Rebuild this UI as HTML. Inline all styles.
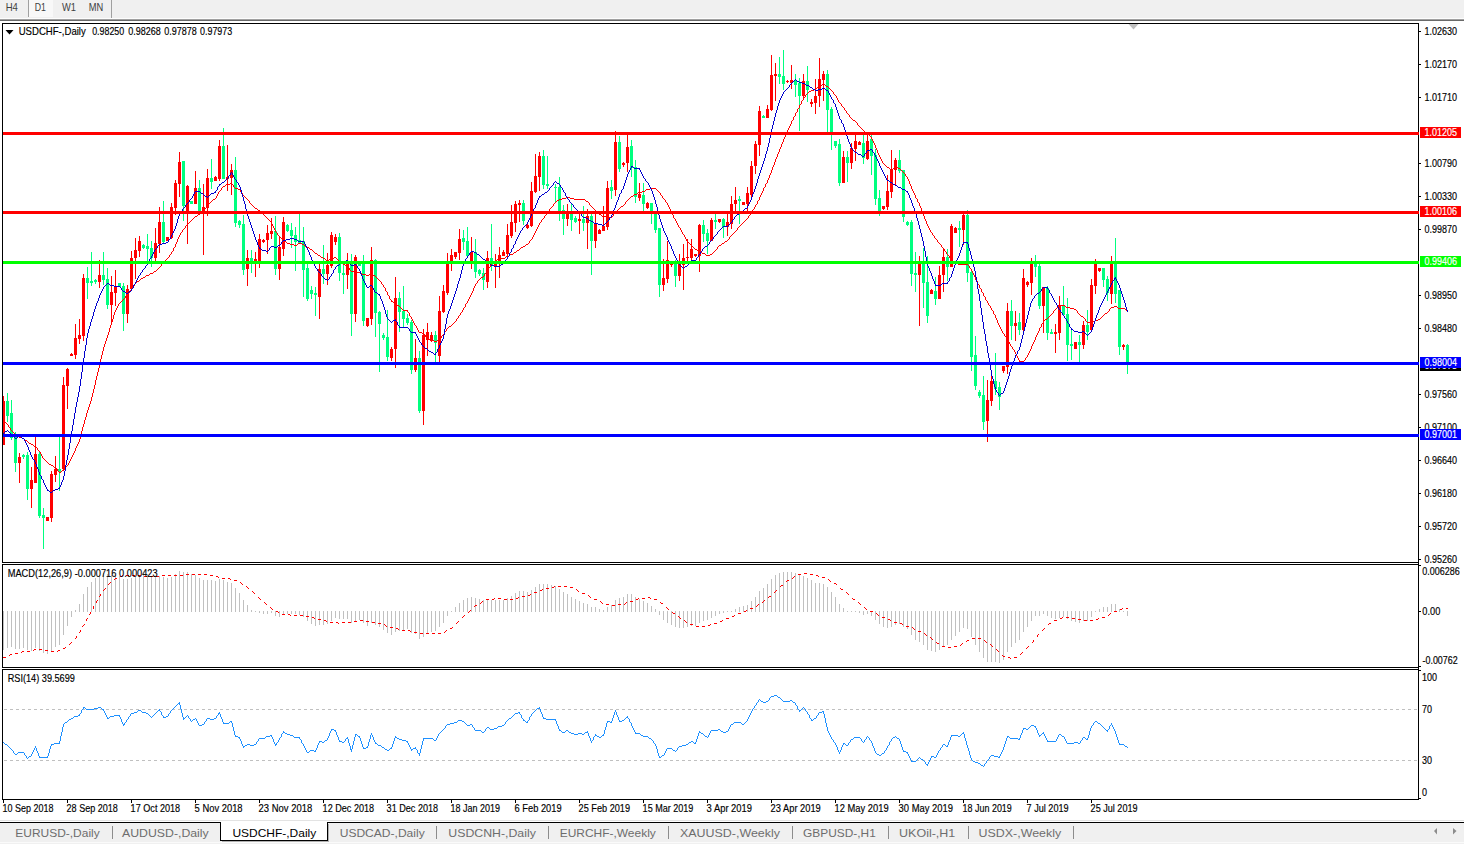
<!DOCTYPE html>
<html><head><meta charset="utf-8"><title>USDCHF-,Daily</title>
<style>
html,body{margin:0;padding:0;background:#fff;}
body{width:1464px;height:844px;overflow:hidden;font-family:"Liberation Sans",sans-serif;}
svg{display:block;font-family:"Liberation Sans",sans-serif;}
svg rect,svg line{shape-rendering:crispEdges;}
</style></head><body>
<svg width="1464" height="844" viewBox="0 0 1464 844">
<rect x="0" y="0" width="1464" height="18" fill="#f0f0f0"/>
<rect x="0" y="18" width="1464" height="1" fill="#fdfdfd"/>
<rect x="0" y="19" width="1464" height="1" fill="#a0a0a0"/>
<rect x="0" y="20" width="1464" height="1" fill="#696969"/>
<rect x="29" y="0" width="24" height="17" fill="#f8f8f8"/>
<rect x="28" y="0" width="1" height="17" fill="#a0a0a0"/>
<rect x="111" y="0" width="1" height="18" fill="#a0a0a0"/>
<text x="5.7" y="10.8" font-size="10.5" fill="#404040" stroke="#404040" stroke-width="0" textLength="12.2" lengthAdjust="spacingAndGlyphs">H4</text>
<text x="34.8" y="10.8" font-size="10.5" fill="#404040" stroke="#404040" stroke-width="0" textLength="11.2" lengthAdjust="spacingAndGlyphs">D1</text>
<text x="62" y="10.8" font-size="10.5" fill="#404040" stroke="#404040" stroke-width="0" textLength="14" lengthAdjust="spacingAndGlyphs">W1</text>
<text x="88.8" y="10.8" font-size="10.5" fill="#404040" stroke="#404040" stroke-width="0" textLength="14.5" lengthAdjust="spacingAndGlyphs">MN</text>
<rect x="2" y="23" width="1417" height="1" fill="#000"/>
<rect x="2" y="23" width="1" height="540" fill="#000"/>
<rect x="2" y="562" width="1417" height="1" fill="#000"/>
<rect x="2" y="564" width="1417" height="1" fill="#000"/>
<rect x="2" y="564" width="1" height="104" fill="#000"/>
<rect x="2" y="667" width="1417" height="1" fill="#000"/>
<rect x="2" y="669" width="1417" height="1" fill="#000"/>
<rect x="2" y="669" width="1" height="131" fill="#000"/>
<rect x="2" y="799" width="1417" height="1" fill="#000"/>
<rect x="1418" y="23" width="1" height="777" fill="#000"/>
<polygon points="1128.5,24 1138.5,24 1133.5,29.5" fill="#c0c0c0"/>
<polygon points="5.5,30 13.5,30 9.5,34.5" fill="#000"/>
<text x="18.7" y="34.7" font-size="10.3" fill="#000" stroke="#000" stroke-width="0.16" textLength="67.1" lengthAdjust="spacingAndGlyphs">USDCHF-,Daily</text>
<text x="92.2" y="34.7" font-size="10.3" fill="#000" stroke="#000" stroke-width="0.16" textLength="32.0" lengthAdjust="spacingAndGlyphs">0.98250</text>
<text x="128.3" y="34.7" font-size="10.3" fill="#000" stroke="#000" stroke-width="0.16" textLength="32.5" lengthAdjust="spacingAndGlyphs">0.98268</text>
<text x="164.2" y="34.7" font-size="10.3" fill="#000" stroke="#000" stroke-width="0.16" textLength="32.5" lengthAdjust="spacingAndGlyphs">0.97878</text>
<text x="200" y="34.7" font-size="10.3" fill="#000" stroke="#000" stroke-width="0.16" textLength="32.2" lengthAdjust="spacingAndGlyphs">0.97973</text>
<rect x="1419" y="31" width="2" height="1" fill="#000"/>
<text x="1424.5" y="35" font-size="10.3" fill="#000" stroke="#000" stroke-width="0.16" textLength="32.5" lengthAdjust="spacingAndGlyphs">1.02630</text>
<rect x="1419" y="64" width="2" height="1" fill="#000"/>
<text x="1424.5" y="68" font-size="10.3" fill="#000" stroke="#000" stroke-width="0.16" textLength="32.5" lengthAdjust="spacingAndGlyphs">1.02170</text>
<rect x="1419" y="97" width="2" height="1" fill="#000"/>
<text x="1424.5" y="101" font-size="10.3" fill="#000" stroke="#000" stroke-width="0.16" textLength="32.5" lengthAdjust="spacingAndGlyphs">1.01710</text>
<rect x="1419" y="163" width="2" height="1" fill="#000"/>
<text x="1424.5" y="167" font-size="10.3" fill="#000" stroke="#000" stroke-width="0.16" textLength="32.5" lengthAdjust="spacingAndGlyphs">1.00790</text>
<rect x="1419" y="196" width="2" height="1" fill="#000"/>
<text x="1424.5" y="200" font-size="10.3" fill="#000" stroke="#000" stroke-width="0.16" textLength="32.5" lengthAdjust="spacingAndGlyphs">1.00330</text>
<rect x="1419" y="229" width="2" height="1" fill="#000"/>
<text x="1424.5" y="233" font-size="10.3" fill="#000" stroke="#000" stroke-width="0.16" textLength="32.5" lengthAdjust="spacingAndGlyphs">0.99870</text>
<rect x="1419" y="295" width="2" height="1" fill="#000"/>
<text x="1424.5" y="299" font-size="10.3" fill="#000" stroke="#000" stroke-width="0.16" textLength="32.5" lengthAdjust="spacingAndGlyphs">0.98950</text>
<rect x="1419" y="328" width="2" height="1" fill="#000"/>
<text x="1424.5" y="332" font-size="10.3" fill="#000" stroke="#000" stroke-width="0.16" textLength="32.5" lengthAdjust="spacingAndGlyphs">0.98480</text>
<rect x="1419" y="394" width="2" height="1" fill="#000"/>
<text x="1424.5" y="398" font-size="10.3" fill="#000" stroke="#000" stroke-width="0.16" textLength="32.5" lengthAdjust="spacingAndGlyphs">0.97560</text>
<rect x="1419" y="427" width="2" height="1" fill="#000"/>
<text x="1424.5" y="431" font-size="10.3" fill="#000" stroke="#000" stroke-width="0.16" textLength="32.5" lengthAdjust="spacingAndGlyphs">0.97100</text>
<rect x="1419" y="460" width="2" height="1" fill="#000"/>
<text x="1424.5" y="464" font-size="10.3" fill="#000" stroke="#000" stroke-width="0.16" textLength="32.5" lengthAdjust="spacingAndGlyphs">0.96640</text>
<rect x="1419" y="493" width="2" height="1" fill="#000"/>
<text x="1424.5" y="497" font-size="10.3" fill="#000" stroke="#000" stroke-width="0.16" textLength="32.5" lengthAdjust="spacingAndGlyphs">0.96180</text>
<rect x="1419" y="526" width="2" height="1" fill="#000"/>
<text x="1424.5" y="530" font-size="10.3" fill="#000" stroke="#000" stroke-width="0.16" textLength="32.5" lengthAdjust="spacingAndGlyphs">0.95720</text>
<rect x="1419" y="559" width="2" height="1" fill="#000"/>
<text x="1424.5" y="563" font-size="10.3" fill="#000" stroke="#000" stroke-width="0.16" textLength="32.5" lengthAdjust="spacingAndGlyphs">0.95260</text>
<rect x="1419" y="565" width="2" height="1" fill="#000"/>
<rect x="1419" y="611" width="2" height="1" fill="#000"/>
<rect x="1419" y="666" width="2" height="1" fill="#000"/>
<text x="1422.3" y="575" font-size="10.3" fill="#000" stroke="#000" stroke-width="0.16" textLength="37.4" lengthAdjust="spacingAndGlyphs">0.006286</text>
<text x="1422.3" y="615" font-size="10.3" fill="#000" stroke="#000" stroke-width="0.16" textLength="18" lengthAdjust="spacingAndGlyphs">0.00</text>
<text x="1422.5" y="664" font-size="10.3" fill="#000" stroke="#000" stroke-width="0.16" textLength="35.2" lengthAdjust="spacingAndGlyphs">-0.00762</text>
<rect x="1419" y="670" width="2" height="1" fill="#000"/>
<rect x="1419" y="798" width="2" height="1" fill="#000"/>
<text x="1422" y="680.5" font-size="10.3" fill="#000" stroke="#000" stroke-width="0.16" textLength="15" lengthAdjust="spacingAndGlyphs">100</text>
<text x="1422" y="713" font-size="10.3" fill="#000" stroke="#000" stroke-width="0.16" textLength="10" lengthAdjust="spacingAndGlyphs">70</text>
<text x="1422" y="764" font-size="10.3" fill="#000" stroke="#000" stroke-width="0.16" textLength="10" lengthAdjust="spacingAndGlyphs">30</text>
<text x="1422" y="796" font-size="10.3" fill="#000" stroke="#000" stroke-width="0.16" textLength="5" lengthAdjust="spacingAndGlyphs">0</text>
<g><rect x="3" y="396" width="1" height="49" fill="#ff0000"/><rect x="3" y="401" width="2" height="44" fill="#ff0000"/><rect x="7" y="393" width="1" height="29" fill="#00ff7f"/><rect x="6" y="401" width="3" height="15" fill="#00ff7f"/><rect x="11" y="400" width="1" height="40" fill="#00ff7f"/><rect x="10" y="413" width="3" height="25" fill="#00ff7f"/><rect x="15" y="432" width="1" height="40" fill="#00ff7f"/><rect x="14" y="436" width="3" height="27" fill="#00ff7f"/><rect x="19" y="453" width="1" height="30" fill="#ff0000"/><rect x="18" y="457" width="3" height="6" fill="#ff0000"/><rect x="23" y="454" width="1" height="5" fill="#00ff7f"/><rect x="22" y="455" width="3" height="2" fill="#00ff7f"/><rect x="27" y="452" width="1" height="48" fill="#00ff7f"/><rect x="26" y="455" width="3" height="34" fill="#00ff7f"/><rect x="31" y="467" width="1" height="41" fill="#ff0000"/><rect x="30" y="480" width="3" height="9" fill="#ff0000"/><rect x="35" y="437" width="1" height="46" fill="#ff0000"/><rect x="34" y="454" width="3" height="29" fill="#ff0000"/><rect x="39" y="452" width="1" height="66" fill="#00ff7f"/><rect x="38" y="454" width="3" height="62" fill="#00ff7f"/><rect x="43" y="508" width="1" height="41" fill="#00ff7f"/><rect x="42" y="515" width="3" height="3" fill="#00ff7f"/><rect x="47" y="517" width="1" height="4" fill="#ff0000"/><rect x="46" y="517" width="3" height="4" fill="#ff0000"/><rect x="51" y="471" width="1" height="51" fill="#ff0000"/><rect x="50" y="474" width="3" height="44" fill="#ff0000"/><rect x="55" y="456" width="1" height="26" fill="#ff0000"/><rect x="54" y="469" width="3" height="6" fill="#ff0000"/><rect x="59" y="434" width="1" height="57" fill="#00ff7f"/><rect x="58" y="469" width="3" height="3" fill="#00ff7f"/><rect x="63" y="377" width="1" height="94" fill="#ff0000"/><rect x="62" y="385" width="3" height="84" fill="#ff0000"/><rect x="67" y="368" width="1" height="41" fill="#ff0000"/><rect x="66" y="369" width="3" height="17" fill="#ff0000"/><rect x="71" y="353" width="1" height="3" fill="#ff0000"/><rect x="70" y="354" width="3" height="2" fill="#ff0000"/><rect x="75" y="324" width="1" height="35" fill="#ff0000"/><rect x="74" y="338" width="3" height="17" fill="#ff0000"/><rect x="79" y="319" width="1" height="25" fill="#ff0000"/><rect x="78" y="335" width="3" height="4" fill="#ff0000"/><rect x="83" y="274" width="1" height="67" fill="#ff0000"/><rect x="82" y="278" width="3" height="58" fill="#ff0000"/><rect x="87" y="267" width="1" height="32" fill="#00ff7f"/><rect x="86" y="278" width="3" height="5" fill="#00ff7f"/><rect x="91" y="252" width="1" height="34" fill="#00ff7f"/><rect x="90" y="281" width="3" height="2" fill="#00ff7f"/><rect x="95" y="279" width="1" height="5" fill="#00ff7f"/><rect x="94" y="280" width="3" height="2" fill="#00ff7f"/><rect x="99" y="260" width="1" height="28" fill="#ff0000"/><rect x="98" y="275" width="3" height="7" fill="#ff0000"/><rect x="103" y="252" width="1" height="33" fill="#00ff7f"/><rect x="102" y="275" width="3" height="5" fill="#00ff7f"/><rect x="107" y="268" width="1" height="41" fill="#00ff7f"/><rect x="106" y="279" width="3" height="26" fill="#00ff7f"/><rect x="111" y="276" width="1" height="47" fill="#ff0000"/><rect x="110" y="292" width="3" height="13" fill="#ff0000"/><rect x="115" y="270" width="1" height="36" fill="#ff0000"/><rect x="114" y="287" width="3" height="6" fill="#ff0000"/><rect x="119" y="283" width="1" height="4" fill="#00ff7f"/><rect x="118" y="283" width="3" height="4" fill="#00ff7f"/><rect x="123" y="283" width="1" height="48" fill="#00ff7f"/><rect x="122" y="286" width="3" height="28" fill="#00ff7f"/><rect x="127" y="285" width="1" height="38" fill="#ff0000"/><rect x="126" y="289" width="3" height="25" fill="#ff0000"/><rect x="131" y="251" width="1" height="38" fill="#ff0000"/><rect x="130" y="258" width="3" height="31" fill="#ff0000"/><rect x="135" y="238" width="1" height="41" fill="#ff0000"/><rect x="134" y="250" width="3" height="8" fill="#ff0000"/><rect x="139" y="236" width="1" height="21" fill="#ff0000"/><rect x="138" y="241" width="3" height="10" fill="#ff0000"/><rect x="143" y="244" width="1" height="5" fill="#00ff7f"/><rect x="142" y="245" width="3" height="3" fill="#00ff7f"/><rect x="147" y="234" width="1" height="27" fill="#00ff7f"/><rect x="146" y="246" width="3" height="3" fill="#00ff7f"/><rect x="151" y="241" width="1" height="26" fill="#00ff7f"/><rect x="150" y="248" width="3" height="10" fill="#00ff7f"/><rect x="155" y="228" width="1" height="34" fill="#ff0000"/><rect x="154" y="243" width="3" height="15" fill="#ff0000"/><rect x="159" y="207" width="1" height="46" fill="#ff0000"/><rect x="158" y="222" width="3" height="22" fill="#ff0000"/><rect x="163" y="201" width="1" height="42" fill="#00ff7f"/><rect x="162" y="222" width="3" height="20" fill="#00ff7f"/><rect x="167" y="237" width="1" height="4" fill="#ff0000"/><rect x="166" y="237" width="3" height="4" fill="#ff0000"/><rect x="171" y="203" width="1" height="36" fill="#ff0000"/><rect x="170" y="207" width="3" height="31" fill="#ff0000"/><rect x="175" y="180" width="1" height="35" fill="#ff0000"/><rect x="174" y="183" width="3" height="25" fill="#ff0000"/><rect x="179" y="152" width="1" height="45" fill="#ff0000"/><rect x="178" y="162" width="3" height="22" fill="#ff0000"/><rect x="183" y="161" width="1" height="60" fill="#00ff7f"/><rect x="182" y="161" width="3" height="45" fill="#00ff7f"/><rect x="187" y="185" width="1" height="59" fill="#ff0000"/><rect x="186" y="186" width="3" height="25" fill="#ff0000"/><rect x="191" y="201" width="1" height="3" fill="#00ff7f"/><rect x="190" y="201" width="3" height="3" fill="#00ff7f"/><rect x="195" y="171" width="1" height="33" fill="#ff0000"/><rect x="194" y="188" width="3" height="16" fill="#ff0000"/><rect x="199" y="180" width="1" height="31" fill="#00ff7f"/><rect x="198" y="188" width="3" height="23" fill="#00ff7f"/><rect x="203" y="184" width="1" height="71" fill="#ff0000"/><rect x="202" y="207" width="3" height="5" fill="#ff0000"/><rect x="207" y="169" width="1" height="47" fill="#ff0000"/><rect x="206" y="178" width="3" height="30" fill="#ff0000"/><rect x="211" y="159" width="1" height="30" fill="#00ff7f"/><rect x="210" y="178" width="3" height="4" fill="#00ff7f"/><rect x="215" y="176" width="1" height="5" fill="#ff0000"/><rect x="214" y="177" width="3" height="4" fill="#ff0000"/><rect x="219" y="140" width="1" height="41" fill="#ff0000"/><rect x="218" y="146" width="3" height="33" fill="#ff0000"/><rect x="223" y="128" width="1" height="51" fill="#00ff7f"/><rect x="222" y="146" width="3" height="33" fill="#00ff7f"/><rect x="227" y="145" width="1" height="46" fill="#ff0000"/><rect x="226" y="177" width="3" height="2" fill="#ff0000"/><rect x="231" y="164" width="1" height="31" fill="#ff0000"/><rect x="230" y="170" width="3" height="8" fill="#ff0000"/><rect x="235" y="157" width="1" height="70" fill="#00ff7f"/><rect x="234" y="170" width="3" height="53" fill="#00ff7f"/><rect x="239" y="220" width="1" height="8" fill="#00ff7f"/><rect x="238" y="221" width="3" height="4" fill="#00ff7f"/><rect x="243" y="215" width="1" height="60" fill="#00ff7f"/><rect x="242" y="224" width="3" height="46" fill="#00ff7f"/><rect x="247" y="250" width="1" height="36" fill="#ff0000"/><rect x="246" y="258" width="3" height="11" fill="#ff0000"/><rect x="251" y="250" width="1" height="23" fill="#00ff7f"/><rect x="250" y="258" width="3" height="5" fill="#00ff7f"/><rect x="255" y="252" width="1" height="25" fill="#ff0000"/><rect x="254" y="259" width="3" height="4" fill="#ff0000"/><rect x="259" y="234" width="1" height="34" fill="#ff0000"/><rect x="258" y="239" width="3" height="22" fill="#ff0000"/><rect x="263" y="239" width="1" height="4" fill="#ff0000"/><rect x="262" y="240" width="3" height="2" fill="#ff0000"/><rect x="267" y="225" width="1" height="29" fill="#ff0000"/><rect x="266" y="233" width="3" height="7" fill="#ff0000"/><rect x="271" y="218" width="1" height="21" fill="#ff0000"/><rect x="270" y="231" width="3" height="3" fill="#ff0000"/><rect x="275" y="216" width="1" height="59" fill="#00ff7f"/><rect x="274" y="231" width="3" height="38" fill="#00ff7f"/><rect x="279" y="237" width="1" height="43" fill="#ff0000"/><rect x="278" y="247" width="3" height="22" fill="#ff0000"/><rect x="283" y="217" width="1" height="39" fill="#ff0000"/><rect x="282" y="222" width="3" height="27" fill="#ff0000"/><rect x="287" y="224" width="1" height="8" fill="#00ff7f"/><rect x="286" y="225" width="3" height="6" fill="#00ff7f"/><rect x="291" y="223" width="1" height="25" fill="#00ff7f"/><rect x="290" y="230" width="3" height="6" fill="#00ff7f"/><rect x="295" y="227" width="1" height="44" fill="#00ff7f"/><rect x="294" y="235" width="3" height="7" fill="#00ff7f"/><rect x="299" y="214" width="1" height="29" fill="#00ff7f"/><rect x="298" y="240" width="3" height="3" fill="#00ff7f"/><rect x="303" y="227" width="1" height="70" fill="#00ff7f"/><rect x="302" y="241" width="3" height="29" fill="#00ff7f"/><rect x="307" y="264" width="1" height="37" fill="#00ff7f"/><rect x="306" y="268" width="3" height="31" fill="#00ff7f"/><rect x="311" y="286" width="1" height="13" fill="#00ff7f"/><rect x="310" y="290" width="3" height="4" fill="#00ff7f"/><rect x="315" y="287" width="1" height="29" fill="#00ff7f"/><rect x="314" y="293" width="3" height="2" fill="#00ff7f"/><rect x="319" y="264" width="1" height="55" fill="#ff0000"/><rect x="318" y="269" width="3" height="28" fill="#ff0000"/><rect x="323" y="245" width="1" height="39" fill="#00ff7f"/><rect x="322" y="269" width="3" height="5" fill="#00ff7f"/><rect x="327" y="253" width="1" height="32" fill="#ff0000"/><rect x="326" y="265" width="3" height="9" fill="#ff0000"/><rect x="331" y="232" width="1" height="36" fill="#ff0000"/><rect x="330" y="235" width="3" height="31" fill="#ff0000"/><rect x="335" y="234" width="1" height="11" fill="#ff0000"/><rect x="334" y="237" width="3" height="5" fill="#ff0000"/><rect x="339" y="233" width="1" height="48" fill="#00ff7f"/><rect x="338" y="237" width="3" height="36" fill="#00ff7f"/><rect x="343" y="264" width="1" height="30" fill="#00ff7f"/><rect x="342" y="273" width="3" height="2" fill="#00ff7f"/><rect x="347" y="253" width="1" height="36" fill="#ff0000"/><rect x="346" y="262" width="3" height="13" fill="#ff0000"/><rect x="351" y="254" width="1" height="82" fill="#00ff7f"/><rect x="350" y="262" width="3" height="52" fill="#00ff7f"/><rect x="355" y="255" width="1" height="67" fill="#ff0000"/><rect x="354" y="257" width="3" height="57" fill="#ff0000"/><rect x="359" y="261" width="1" height="5" fill="#00ff7f"/><rect x="358" y="261" width="3" height="5" fill="#00ff7f"/><rect x="363" y="255" width="1" height="71" fill="#00ff7f"/><rect x="362" y="262" width="3" height="59" fill="#00ff7f"/><rect x="367" y="318" width="1" height="9" fill="#ff0000"/><rect x="366" y="318" width="3" height="8" fill="#ff0000"/><rect x="371" y="247" width="1" height="78" fill="#ff0000"/><rect x="370" y="260" width="3" height="59" fill="#ff0000"/><rect x="375" y="259" width="1" height="78" fill="#00ff7f"/><rect x="374" y="260" width="3" height="53" fill="#00ff7f"/><rect x="379" y="311" width="1" height="61" fill="#00ff7f"/><rect x="378" y="312" width="3" height="12" fill="#00ff7f"/><rect x="383" y="333" width="1" height="7" fill="#00ff7f"/><rect x="382" y="335" width="3" height="3" fill="#00ff7f"/><rect x="387" y="310" width="1" height="51" fill="#00ff7f"/><rect x="386" y="337" width="3" height="20" fill="#00ff7f"/><rect x="391" y="347" width="1" height="14" fill="#ff0000"/><rect x="390" y="349" width="3" height="9" fill="#ff0000"/><rect x="395" y="277" width="1" height="91" fill="#ff0000"/><rect x="394" y="298" width="3" height="51" fill="#ff0000"/><rect x="399" y="292" width="1" height="40" fill="#00ff7f"/><rect x="398" y="298" width="3" height="14" fill="#00ff7f"/><rect x="403" y="286" width="1" height="42" fill="#00ff7f"/><rect x="402" y="311" width="3" height="8" fill="#00ff7f"/><rect x="407" y="314" width="1" height="11" fill="#00ff7f"/><rect x="406" y="318" width="3" height="5" fill="#00ff7f"/><rect x="411" y="320" width="1" height="54" fill="#00ff7f"/><rect x="410" y="322" width="3" height="48" fill="#00ff7f"/><rect x="415" y="339" width="1" height="33" fill="#ff0000"/><rect x="414" y="358" width="3" height="12" fill="#ff0000"/><rect x="419" y="351" width="1" height="62" fill="#00ff7f"/><rect x="418" y="358" width="3" height="53" fill="#00ff7f"/><rect x="423" y="329" width="1" height="96" fill="#ff0000"/><rect x="422" y="335" width="3" height="76" fill="#ff0000"/><rect x="427" y="323" width="1" height="33" fill="#ff0000"/><rect x="426" y="332" width="3" height="8" fill="#ff0000"/><rect x="431" y="332" width="1" height="10" fill="#ff0000"/><rect x="430" y="335" width="3" height="5" fill="#ff0000"/><rect x="435" y="331" width="1" height="32" fill="#00ff7f"/><rect x="434" y="335" width="3" height="8" fill="#00ff7f"/><rect x="439" y="296" width="1" height="67" fill="#ff0000"/><rect x="438" y="311" width="3" height="45" fill="#ff0000"/><rect x="443" y="285" width="1" height="28" fill="#ff0000"/><rect x="442" y="291" width="3" height="21" fill="#ff0000"/><rect x="447" y="253" width="1" height="42" fill="#ff0000"/><rect x="446" y="261" width="3" height="32" fill="#ff0000"/><rect x="451" y="249" width="1" height="22" fill="#ff0000"/><rect x="450" y="255" width="3" height="8" fill="#ff0000"/><rect x="455" y="252" width="1" height="7" fill="#ff0000"/><rect x="454" y="252" width="3" height="5" fill="#ff0000"/><rect x="459" y="229" width="1" height="31" fill="#ff0000"/><rect x="458" y="239" width="3" height="14" fill="#ff0000"/><rect x="463" y="230" width="1" height="20" fill="#00ff7f"/><rect x="462" y="238" width="3" height="4" fill="#00ff7f"/><rect x="467" y="227" width="1" height="29" fill="#00ff7f"/><rect x="466" y="241" width="3" height="15" fill="#00ff7f"/><rect x="471" y="237" width="1" height="32" fill="#ff0000"/><rect x="470" y="252" width="3" height="10" fill="#ff0000"/><rect x="475" y="239" width="1" height="39" fill="#00ff7f"/><rect x="474" y="252" width="3" height="20" fill="#00ff7f"/><rect x="479" y="269" width="1" height="7" fill="#00ff7f"/><rect x="478" y="270" width="3" height="4" fill="#00ff7f"/><rect x="483" y="268" width="1" height="22" fill="#00ff7f"/><rect x="482" y="273" width="3" height="7" fill="#00ff7f"/><rect x="487" y="251" width="1" height="37" fill="#ff0000"/><rect x="486" y="258" width="3" height="24" fill="#ff0000"/><rect x="491" y="224" width="1" height="47" fill="#00ff7f"/><rect x="490" y="258" width="3" height="8" fill="#00ff7f"/><rect x="495" y="254" width="1" height="34" fill="#ff0000"/><rect x="494" y="261" width="3" height="6" fill="#ff0000"/><rect x="499" y="247" width="1" height="31" fill="#ff0000"/><rect x="498" y="255" width="3" height="8" fill="#ff0000"/><rect x="503" y="250" width="1" height="6" fill="#ff0000"/><rect x="502" y="252" width="3" height="4" fill="#ff0000"/><rect x="507" y="224" width="1" height="33" fill="#ff0000"/><rect x="506" y="235" width="3" height="19" fill="#ff0000"/><rect x="511" y="205" width="1" height="33" fill="#ff0000"/><rect x="510" y="222" width="3" height="14" fill="#ff0000"/><rect x="515" y="201" width="1" height="31" fill="#ff0000"/><rect x="514" y="204" width="3" height="19" fill="#ff0000"/><rect x="519" y="200" width="1" height="22" fill="#ff0000"/><rect x="518" y="203" width="3" height="2" fill="#ff0000"/><rect x="523" y="200" width="1" height="25" fill="#00ff7f"/><rect x="522" y="203" width="3" height="18" fill="#00ff7f"/><rect x="527" y="224" width="1" height="5" fill="#ff0000"/><rect x="526" y="225" width="3" height="3" fill="#ff0000"/><rect x="531" y="182" width="1" height="45" fill="#ff0000"/><rect x="530" y="191" width="3" height="35" fill="#ff0000"/><rect x="535" y="154" width="1" height="39" fill="#ff0000"/><rect x="534" y="176" width="3" height="16" fill="#ff0000"/><rect x="539" y="152" width="1" height="39" fill="#ff0000"/><rect x="538" y="156" width="3" height="21" fill="#ff0000"/><rect x="543" y="150" width="1" height="39" fill="#00ff7f"/><rect x="542" y="156" width="3" height="29" fill="#00ff7f"/><rect x="547" y="156" width="1" height="33" fill="#00ff7f"/><rect x="546" y="184" width="3" height="2" fill="#00ff7f"/><rect x="555" y="184" width="1" height="19" fill="#00ff7f"/><rect x="554" y="187" width="3" height="1" fill="#00ff7f"/><rect x="559" y="177" width="1" height="44" fill="#00ff7f"/><rect x="558" y="187" width="3" height="26" fill="#00ff7f"/><rect x="563" y="205" width="1" height="30" fill="#00ff7f"/><rect x="562" y="210" width="3" height="9" fill="#00ff7f"/><rect x="567" y="204" width="1" height="22" fill="#ff0000"/><rect x="566" y="211" width="3" height="8" fill="#ff0000"/><rect x="571" y="204" width="1" height="27" fill="#00ff7f"/><rect x="570" y="212" width="3" height="8" fill="#00ff7f"/><rect x="575" y="216" width="1" height="7" fill="#00ff7f"/><rect x="574" y="218" width="3" height="4" fill="#00ff7f"/><rect x="579" y="213" width="1" height="21" fill="#ff0000"/><rect x="578" y="219" width="3" height="2" fill="#ff0000"/><rect x="583" y="206" width="1" height="25" fill="#00ff7f"/><rect x="582" y="219" width="3" height="4" fill="#00ff7f"/><rect x="587" y="209" width="1" height="40" fill="#ff0000"/><rect x="586" y="216" width="3" height="7" fill="#ff0000"/><rect x="591" y="214" width="1" height="61" fill="#00ff7f"/><rect x="590" y="216" width="3" height="25" fill="#00ff7f"/><rect x="595" y="212" width="1" height="36" fill="#ff0000"/><rect x="594" y="223" width="3" height="18" fill="#ff0000"/><rect x="599" y="229" width="1" height="5" fill="#ff0000"/><rect x="598" y="230" width="3" height="4" fill="#ff0000"/><rect x="603" y="206" width="1" height="25" fill="#ff0000"/><rect x="602" y="226" width="3" height="5" fill="#ff0000"/><rect x="607" y="181" width="1" height="49" fill="#ff0000"/><rect x="606" y="188" width="3" height="39" fill="#ff0000"/><rect x="611" y="180" width="1" height="19" fill="#00ff7f"/><rect x="610" y="187" width="3" height="4" fill="#00ff7f"/><rect x="615" y="131" width="1" height="65" fill="#ff0000"/><rect x="614" y="142" width="3" height="48" fill="#ff0000"/><rect x="619" y="136" width="1" height="36" fill="#00ff7f"/><rect x="618" y="142" width="3" height="27" fill="#00ff7f"/><rect x="623" y="162" width="1" height="5" fill="#ff0000"/><rect x="622" y="163" width="3" height="2" fill="#ff0000"/><rect x="627" y="134" width="1" height="38" fill="#ff0000"/><rect x="626" y="147" width="3" height="16" fill="#ff0000"/><rect x="631" y="140" width="1" height="37" fill="#00ff7f"/><rect x="630" y="146" width="3" height="22" fill="#00ff7f"/><rect x="635" y="160" width="1" height="43" fill="#00ff7f"/><rect x="634" y="167" width="3" height="30" fill="#00ff7f"/><rect x="639" y="183" width="1" height="18" fill="#ff0000"/><rect x="638" y="194" width="3" height="4" fill="#ff0000"/><rect x="643" y="183" width="1" height="29" fill="#00ff7f"/><rect x="642" y="195" width="3" height="9" fill="#00ff7f"/><rect x="647" y="202" width="1" height="7" fill="#ff0000"/><rect x="646" y="203" width="3" height="5" fill="#ff0000"/><rect x="651" y="203" width="1" height="21" fill="#00ff7f"/><rect x="650" y="203" width="3" height="10" fill="#00ff7f"/><rect x="655" y="212" width="1" height="21" fill="#00ff7f"/><rect x="654" y="212" width="3" height="18" fill="#00ff7f"/><rect x="659" y="228" width="1" height="69" fill="#00ff7f"/><rect x="658" y="228" width="3" height="57" fill="#00ff7f"/><rect x="663" y="259" width="1" height="32" fill="#ff0000"/><rect x="662" y="278" width="3" height="7" fill="#ff0000"/><rect x="667" y="241" width="1" height="42" fill="#ff0000"/><rect x="666" y="260" width="3" height="19" fill="#ff0000"/><rect x="671" y="261" width="1" height="6" fill="#ff0000"/><rect x="670" y="262" width="3" height="3" fill="#ff0000"/><rect x="675" y="260" width="1" height="27" fill="#00ff7f"/><rect x="674" y="262" width="3" height="14" fill="#00ff7f"/><rect x="679" y="254" width="1" height="27" fill="#ff0000"/><rect x="678" y="262" width="3" height="14" fill="#ff0000"/><rect x="683" y="244" width="1" height="46" fill="#ff0000"/><rect x="682" y="258" width="3" height="7" fill="#ff0000"/><rect x="687" y="239" width="1" height="24" fill="#ff0000"/><rect x="686" y="257" width="3" height="1" fill="#ff0000"/><rect x="691" y="239" width="1" height="23" fill="#ff0000"/><rect x="690" y="249" width="3" height="9" fill="#ff0000"/><rect x="695" y="254" width="1" height="3" fill="#ff0000"/><rect x="694" y="254" width="3" height="2" fill="#ff0000"/><rect x="699" y="224" width="1" height="48" fill="#ff0000"/><rect x="698" y="225" width="3" height="31" fill="#ff0000"/><rect x="703" y="220" width="1" height="22" fill="#00ff7f"/><rect x="702" y="225" width="3" height="9" fill="#00ff7f"/><rect x="707" y="229" width="1" height="25" fill="#00ff7f"/><rect x="706" y="233" width="3" height="8" fill="#00ff7f"/><rect x="711" y="218" width="1" height="23" fill="#ff0000"/><rect x="710" y="220" width="3" height="21" fill="#ff0000"/><rect x="715" y="214" width="1" height="15" fill="#00ff7f"/><rect x="714" y="220" width="3" height="2" fill="#00ff7f"/><rect x="719" y="219" width="1" height="4" fill="#ff0000"/><rect x="718" y="219" width="3" height="3" fill="#ff0000"/><rect x="723" y="218" width="1" height="20" fill="#00ff7f"/><rect x="722" y="219" width="3" height="8" fill="#00ff7f"/><rect x="727" y="213" width="1" height="23" fill="#ff0000"/><rect x="726" y="222" width="3" height="5" fill="#ff0000"/><rect x="731" y="196" width="1" height="33" fill="#ff0000"/><rect x="730" y="204" width="3" height="20" fill="#ff0000"/><rect x="735" y="187" width="1" height="26" fill="#ff0000"/><rect x="734" y="200" width="3" height="4" fill="#ff0000"/><rect x="739" y="196" width="1" height="28" fill="#00ff7f"/><rect x="738" y="199" width="3" height="2" fill="#00ff7f"/><rect x="743" y="202" width="1" height="3" fill="#ff0000"/><rect x="742" y="202" width="3" height="3" fill="#ff0000"/><rect x="747" y="187" width="1" height="26" fill="#ff0000"/><rect x="746" y="193" width="3" height="11" fill="#ff0000"/><rect x="751" y="161" width="1" height="36" fill="#ff0000"/><rect x="750" y="166" width="3" height="29" fill="#ff0000"/><rect x="755" y="141" width="1" height="33" fill="#ff0000"/><rect x="754" y="144" width="3" height="22" fill="#ff0000"/><rect x="759" y="106" width="1" height="50" fill="#ff0000"/><rect x="758" y="111" width="3" height="34" fill="#ff0000"/><rect x="763" y="115" width="1" height="3" fill="#00ff7f"/><rect x="762" y="116" width="3" height="2" fill="#00ff7f"/><rect x="767" y="105" width="1" height="13" fill="#ff0000"/><rect x="766" y="109" width="3" height="9" fill="#ff0000"/><rect x="771" y="55" width="1" height="56" fill="#ff0000"/><rect x="770" y="75" width="3" height="35" fill="#ff0000"/><rect x="775" y="63" width="1" height="38" fill="#ff0000"/><rect x="774" y="74" width="3" height="2" fill="#ff0000"/><rect x="779" y="57" width="1" height="27" fill="#00ff7f"/><rect x="778" y="74" width="3" height="3" fill="#00ff7f"/><rect x="783" y="50" width="1" height="40" fill="#00ff7f"/><rect x="782" y="76" width="3" height="8" fill="#00ff7f"/><rect x="787" y="80" width="1" height="3" fill="#ff0000"/><rect x="786" y="81" width="3" height="1" fill="#ff0000"/><rect x="791" y="65" width="1" height="24" fill="#ff0000"/><rect x="790" y="80" width="3" height="3" fill="#ff0000"/><rect x="795" y="74" width="1" height="23" fill="#00ff7f"/><rect x="794" y="80" width="3" height="5" fill="#00ff7f"/><rect x="799" y="78" width="1" height="53" fill="#00ff7f"/><rect x="798" y="83" width="3" height="13" fill="#00ff7f"/><rect x="803" y="74" width="1" height="24" fill="#ff0000"/><rect x="802" y="81" width="3" height="15" fill="#ff0000"/><rect x="807" y="66" width="1" height="36" fill="#00ff7f"/><rect x="806" y="81" width="3" height="9" fill="#00ff7f"/><rect x="811" y="99" width="1" height="8" fill="#ff0000"/><rect x="810" y="102" width="3" height="2" fill="#ff0000"/><rect x="815" y="79" width="1" height="35" fill="#ff0000"/><rect x="814" y="96" width="3" height="7" fill="#ff0000"/><rect x="819" y="58" width="1" height="49" fill="#ff0000"/><rect x="818" y="79" width="3" height="17" fill="#ff0000"/><rect x="823" y="71" width="1" height="30" fill="#ff0000"/><rect x="822" y="74" width="3" height="6" fill="#ff0000"/><rect x="827" y="70" width="1" height="63" fill="#00ff7f"/><rect x="826" y="74" width="3" height="36" fill="#00ff7f"/><rect x="831" y="107" width="1" height="43" fill="#00ff7f"/><rect x="830" y="109" width="3" height="23" fill="#00ff7f"/><rect x="835" y="141" width="1" height="7" fill="#00ff7f"/><rect x="834" y="141" width="3" height="5" fill="#00ff7f"/><rect x="839" y="139" width="1" height="47" fill="#00ff7f"/><rect x="838" y="144" width="3" height="39" fill="#00ff7f"/><rect x="843" y="151" width="1" height="32" fill="#ff0000"/><rect x="842" y="157" width="3" height="26" fill="#ff0000"/><rect x="847" y="151" width="1" height="31" fill="#00ff7f"/><rect x="846" y="157" width="3" height="6" fill="#00ff7f"/><rect x="851" y="143" width="1" height="26" fill="#ff0000"/><rect x="850" y="148" width="3" height="15" fill="#ff0000"/><rect x="855" y="135" width="1" height="26" fill="#ff0000"/><rect x="854" y="141" width="3" height="8" fill="#ff0000"/><rect x="859" y="141" width="1" height="4" fill="#ff0000"/><rect x="858" y="142" width="3" height="3" fill="#ff0000"/><rect x="863" y="135" width="1" height="29" fill="#00ff7f"/><rect x="862" y="143" width="3" height="15" fill="#00ff7f"/><rect x="867" y="135" width="1" height="25" fill="#ff0000"/><rect x="866" y="141" width="3" height="18" fill="#ff0000"/><rect x="871" y="135" width="1" height="40" fill="#00ff7f"/><rect x="870" y="139" width="3" height="17" fill="#00ff7f"/><rect x="875" y="149" width="1" height="56" fill="#00ff7f"/><rect x="874" y="155" width="3" height="44" fill="#00ff7f"/><rect x="879" y="190" width="1" height="26" fill="#00ff7f"/><rect x="878" y="198" width="3" height="15" fill="#00ff7f"/><rect x="883" y="206" width="1" height="4" fill="#ff0000"/><rect x="882" y="206" width="3" height="3" fill="#ff0000"/><rect x="887" y="175" width="1" height="35" fill="#ff0000"/><rect x="886" y="191" width="3" height="16" fill="#ff0000"/><rect x="891" y="150" width="1" height="48" fill="#ff0000"/><rect x="890" y="170" width="3" height="22" fill="#ff0000"/><rect x="895" y="158" width="1" height="27" fill="#ff0000"/><rect x="894" y="160" width="3" height="10" fill="#ff0000"/><rect x="899" y="150" width="1" height="23" fill="#00ff7f"/><rect x="898" y="160" width="3" height="11" fill="#00ff7f"/><rect x="903" y="170" width="1" height="52" fill="#00ff7f"/><rect x="902" y="170" width="3" height="47" fill="#00ff7f"/><rect x="907" y="221" width="1" height="5" fill="#00ff7f"/><rect x="906" y="222" width="3" height="3" fill="#00ff7f"/><rect x="911" y="220" width="1" height="66" fill="#00ff7f"/><rect x="910" y="222" width="3" height="52" fill="#00ff7f"/><rect x="915" y="252" width="1" height="40" fill="#00ff7f"/><rect x="914" y="273" width="3" height="2" fill="#00ff7f"/><rect x="919" y="256" width="1" height="70" fill="#ff0000"/><rect x="918" y="262" width="3" height="13" fill="#ff0000"/><rect x="923" y="248" width="1" height="60" fill="#00ff7f"/><rect x="922" y="262" width="3" height="21" fill="#00ff7f"/><rect x="927" y="256" width="1" height="67" fill="#00ff7f"/><rect x="926" y="282" width="3" height="34" fill="#00ff7f"/><rect x="931" y="289" width="1" height="5" fill="#ff0000"/><rect x="930" y="290" width="3" height="4" fill="#ff0000"/><rect x="935" y="277" width="1" height="28" fill="#00ff7f"/><rect x="934" y="291" width="3" height="8" fill="#00ff7f"/><rect x="939" y="266" width="1" height="33" fill="#ff0000"/><rect x="938" y="275" width="3" height="24" fill="#ff0000"/><rect x="943" y="249" width="1" height="43" fill="#ff0000"/><rect x="942" y="257" width="3" height="18" fill="#ff0000"/><rect x="947" y="249" width="1" height="32" fill="#00ff7f"/><rect x="946" y="257" width="3" height="10" fill="#00ff7f"/><rect x="951" y="224" width="1" height="43" fill="#ff0000"/><rect x="950" y="226" width="3" height="41" fill="#ff0000"/><rect x="955" y="227" width="1" height="6" fill="#ff0000"/><rect x="954" y="228" width="3" height="5" fill="#ff0000"/><rect x="959" y="221" width="1" height="26" fill="#00ff7f"/><rect x="958" y="228" width="3" height="2" fill="#00ff7f"/><rect x="963" y="212" width="1" height="33" fill="#ff0000"/><rect x="962" y="215" width="3" height="15" fill="#ff0000"/><rect x="967" y="210" width="1" height="72" fill="#00ff7f"/><rect x="966" y="215" width="3" height="58" fill="#00ff7f"/><rect x="971" y="271" width="1" height="100" fill="#00ff7f"/><rect x="970" y="272" width="3" height="85" fill="#00ff7f"/><rect x="975" y="336" width="1" height="54" fill="#00ff7f"/><rect x="974" y="355" width="3" height="31" fill="#00ff7f"/><rect x="979" y="390" width="1" height="8" fill="#00ff7f"/><rect x="978" y="392" width="3" height="4" fill="#00ff7f"/><rect x="983" y="376" width="1" height="54" fill="#00ff7f"/><rect x="982" y="395" width="3" height="27" fill="#00ff7f"/><rect x="987" y="380" width="1" height="62" fill="#ff0000"/><rect x="986" y="400" width="3" height="21" fill="#ff0000"/><rect x="991" y="376" width="1" height="30" fill="#ff0000"/><rect x="990" y="381" width="3" height="20" fill="#ff0000"/><rect x="995" y="353" width="1" height="42" fill="#00ff7f"/><rect x="994" y="381" width="3" height="8" fill="#00ff7f"/><rect x="999" y="382" width="1" height="28" fill="#00ff7f"/><rect x="998" y="387" width="3" height="10" fill="#00ff7f"/><rect x="1003" y="366" width="1" height="7" fill="#ff0000"/><rect x="1002" y="366" width="3" height="5" fill="#ff0000"/><rect x="1007" y="303" width="1" height="71" fill="#ff0000"/><rect x="1006" y="311" width="3" height="56" fill="#ff0000"/><rect x="1011" y="300" width="1" height="40" fill="#00ff7f"/><rect x="1010" y="311" width="3" height="15" fill="#00ff7f"/><rect x="1015" y="311" width="1" height="30" fill="#ff0000"/><rect x="1014" y="323" width="3" height="3" fill="#ff0000"/><rect x="1019" y="313" width="1" height="22" fill="#00ff7f"/><rect x="1018" y="322" width="3" height="8" fill="#00ff7f"/><rect x="1023" y="269" width="1" height="62" fill="#ff0000"/><rect x="1022" y="278" width="3" height="52" fill="#ff0000"/><rect x="1027" y="281" width="1" height="6" fill="#ff0000"/><rect x="1026" y="282" width="3" height="3" fill="#ff0000"/><rect x="1031" y="258" width="1" height="37" fill="#ff0000"/><rect x="1030" y="262" width="3" height="21" fill="#ff0000"/><rect x="1035" y="255" width="1" height="22" fill="#00ff7f"/><rect x="1034" y="262" width="3" height="5" fill="#00ff7f"/><rect x="1039" y="264" width="1" height="45" fill="#00ff7f"/><rect x="1038" y="266" width="3" height="40" fill="#00ff7f"/><rect x="1043" y="287" width="1" height="46" fill="#ff0000"/><rect x="1042" y="287" width="3" height="19" fill="#ff0000"/><rect x="1047" y="286" width="1" height="54" fill="#00ff7f"/><rect x="1046" y="288" width="3" height="45" fill="#00ff7f"/><rect x="1051" y="329" width="1" height="5" fill="#00ff7f"/><rect x="1050" y="332" width="3" height="2" fill="#00ff7f"/><rect x="1055" y="324" width="1" height="29" fill="#ff0000"/><rect x="1054" y="332" width="3" height="2" fill="#ff0000"/><rect x="1059" y="296" width="1" height="44" fill="#ff0000"/><rect x="1058" y="305" width="3" height="28" fill="#ff0000"/><rect x="1063" y="286" width="1" height="29" fill="#00ff7f"/><rect x="1062" y="305" width="3" height="10" fill="#00ff7f"/><rect x="1067" y="298" width="1" height="63" fill="#00ff7f"/><rect x="1066" y="314" width="3" height="31" fill="#00ff7f"/><rect x="1071" y="328" width="1" height="32" fill="#00ff7f"/><rect x="1070" y="344" width="3" height="2" fill="#00ff7f"/><rect x="1075" y="342" width="1" height="7" fill="#ff0000"/><rect x="1074" y="342" width="3" height="7" fill="#ff0000"/><rect x="1079" y="335" width="1" height="27" fill="#00ff7f"/><rect x="1078" y="342" width="3" height="3" fill="#00ff7f"/><rect x="1083" y="321" width="1" height="28" fill="#ff0000"/><rect x="1082" y="325" width="3" height="20" fill="#ff0000"/><rect x="1087" y="310" width="1" height="30" fill="#00ff7f"/><rect x="1086" y="325" width="3" height="7" fill="#00ff7f"/><rect x="1091" y="279" width="1" height="52" fill="#ff0000"/><rect x="1090" y="285" width="3" height="45" fill="#ff0000"/><rect x="1095" y="259" width="1" height="35" fill="#ff0000"/><rect x="1094" y="262" width="3" height="24" fill="#ff0000"/><rect x="1099" y="268" width="1" height="4" fill="#ff0000"/><rect x="1098" y="268" width="3" height="3" fill="#ff0000"/><rect x="1103" y="268" width="1" height="19" fill="#00ff7f"/><rect x="1102" y="268" width="3" height="12" fill="#00ff7f"/><rect x="1107" y="276" width="1" height="25" fill="#00ff7f"/><rect x="1106" y="279" width="3" height="14" fill="#00ff7f"/><rect x="1111" y="256" width="1" height="48" fill="#ff0000"/><rect x="1110" y="262" width="3" height="32" fill="#ff0000"/><rect x="1115" y="238" width="1" height="65" fill="#00ff7f"/><rect x="1114" y="262" width="3" height="32" fill="#00ff7f"/><rect x="1119" y="290" width="1" height="65" fill="#00ff7f"/><rect x="1118" y="290" width="3" height="57" fill="#00ff7f"/><rect x="1123" y="344" width="1" height="6" fill="#ff0000"/><rect x="1122" y="345" width="3" height="2" fill="#ff0000"/><rect x="1127" y="344" width="1" height="30" fill="#00ff7f"/><rect x="1126" y="345" width="3" height="19" fill="#00ff7f"/></g>
<path d="M822 84.5h3M819 86.5h2M826 86.5h2M817 87.5h2M814 89.5h2M811 90.5h3M809 91.5h2M853 120.5h2M865 132.5h2M887 167.5h2M894 167.5h4M898 168.5h2M890 169.5h3M230 183.5h2M226 184.5h4M223 186.5h2M235 188.5h3M650 188.5h6M238 189.5h2M646 189.5h4M642 191.5h3M638 192.5h4M634 194.5h3M631 196.5h2M566 197.5h4M562 198.5h4M570 198.5h4M213 199.5h2M559 199.5h3M574 199.5h11M557 200.5h2M586 201.5h2M621 206.5h2M255 208.5h2M258 210.5h2M201 212.5h2M198 214.5h2M599 214.5h2M195 216.5h2M602 216.5h4M606 217.5h6M281 238.5h2M725 241.5h2M287 243.5h3M298 243.5h4M722 243.5h2M290 244.5h4M302 244.5h2M526 244.5h2M294 245.5h3M719 245.5h2M305 246.5h2M523 246.5h2M307 247.5h2M521 247.5h2M310 249.5h2M695 249.5h2M517 250.5h2M698 251.5h3M514 252.5h2M315 253.5h2M702 253.5h3M510 254.5h3M710 254.5h2M318 255.5h2M706 255.5h4M506 256.5h3M321 257.5h2M334 257.5h2M323 258.5h2M330 258.5h4M499 258.5h6M497 259.5h2M326 260.5h3M493 262.5h2M341 263.5h2M955 263.5h3M343 264.5h2M958 264.5h10M346 266.5h2M154 271.5h2M351 271.5h3M354 272.5h7M150 273.5h3M370 273.5h2M362 274.5h4M146 275.5h3M366 275.5h3M373 275.5h2M143 277.5h2M481 277.5h2M141 278.5h2M137 281.5h2M391 301.5h2M394 303.5h2M397 305.5h2M1059 305.5h6M1114 306.5h3M1066 307.5h4M1111 307.5h3M1070 308.5h4M1118 308.5h7M1074 309.5h2M403 310.5h5M1126 310.5h2M1105 313.5h2M1081 316.5h2M1045 319.5h2M1098 319.5h2M1095 320.5h3M1093 321.5h2M1087 322.5h3M1090 323.5h2M449 326.5h2M419 332.5h3M422 333.5h2M427 338.5h2M438 339.5h2M430 340.5h4M434 341.5h3M1019 361.5h5M17 436.5h2M19 437.5h3M22 438.5h2M25 440.5h2M29 443.5h2M31 444.5h2M34 446.5h2M49 464.5h2M51 465.5h2M54 467.5h2M62 470.5h2M59 472.5h2M3.5 420v1M4.5 421v1M5.5 422v1M6.5 423v1M7.5 424v1M8.5 425v2M9.5 427v1M10.5 428v2M11.5 430v1M12.5 431v1M13.5 432v1M14.5 433v1M15.5 434v1M16.5 435v1M24.5 439v1M27.5 441v1M28.5 442v1M33.5 445v1M36.5 447v1M37.5 448v2M38.5 450v1M39.5 451v1M40.5 452v2M41.5 454v2M42.5 456v2M43.5 458v1M44.5 459v1M45.5 460v1M46.5 461v1M47.5 462v1M48.5 463v1M53.5 466v1M56.5 468v1M57.5 469v2M58.5 471v1M61.5 471v1M64.5 469v1M65.5 467v2M66.5 466v1M67.5 465v1M68.5 463v2M69.5 461v2M70.5 459v2M71.5 457v2M72.5 455v2M73.5 453v2M74.5 451v2M75.5 448v3M76.5 446v2M77.5 444v2M78.5 442v2M79.5 439v3M80.5 435v4M81.5 431v4M82.5 427v4M83.5 424v3M84.5 420v4M85.5 417v3M86.5 413v4M87.5 410v3M88.5 407v3M89.5 404v3M90.5 401v3M91.5 397v4M92.5 393v4M93.5 389v4M94.5 385v4M95.5 380v5M96.5 376v4M97.5 372v4M98.5 368v4M99.5 363v5M100.5 359v4M101.5 355v4M102.5 351v4M103.5 347v4M104.5 344v3M105.5 341v3M106.5 338v3M107.5 335v3M108.5 332v3M109.5 328v4M110.5 325v3M111.5 322v3M112.5 319v3M113.5 315v4M114.5 312v3M115.5 310v2M116.5 308v2M117.5 306v2M118.5 304v2M119.5 303v1M120.5 302v1M121.5 301v1M122.5 300v1M123.5 299v1M124.5 298v1M125.5 296v2M126.5 295v1M127.5 294v1M128.5 293v1M129.5 291v2M130.5 290v1M131.5 289v1M132.5 287v2M133.5 286v1M134.5 284v2M135.5 283v1M136.5 282v1M139.5 280v1M140.5 279v1M145.5 276v1M149.5 274v1M153.5 272v1M156.5 270v1M157.5 269v1M158.5 268v1M159.5 267v1M160.5 266v1M161.5 264v2M162.5 263v1M163.5 262v1M164.5 261v1M165.5 260v1M166.5 259v1M167.5 258v1M168.5 257v1M169.5 255v2M170.5 254v1M171.5 252v2M172.5 251v1M173.5 248v3M174.5 247v1M175.5 244v3M176.5 242v2M177.5 239v3M178.5 237v2M179.5 235v2M180.5 233v2M181.5 232v1M182.5 230v2M183.5 229v1M184.5 228v1M185.5 226v2M186.5 225v1M187.5 224v1M188.5 223v1M189.5 222v1M190.5 221v1M191.5 220v1M192.5 219v1M193.5 218v1M194.5 217v1M197.5 215v1M200.5 213v1M203.5 211v1M204.5 209v2M205.5 208v1M206.5 206v2M207.5 205v1M208.5 204v1M209.5 203v1M210.5 202v1M211.5 201v1M212.5 200v1M215.5 198v1M216.5 196v2M217.5 194v2M218.5 192v2M219.5 191v1M220.5 190v1M221.5 188v2M222.5 187v1M225.5 185v1M232.5 184v1M233.5 185v2M234.5 187v1M240.5 190v2M241.5 192v1M242.5 193v2M243.5 195v1M244.5 196v1M245.5 197v1M246.5 198v1M247.5 199v1M248.5 200v1M249.5 201v2M250.5 203v1M251.5 204v1M252.5 205v1M253.5 206v1M254.5 207v1M257.5 209v1M260.5 211v1M261.5 212v1M262.5 213v1M263.5 214v1M264.5 215v1M265.5 216v1M266.5 217v1M267.5 218v1M268.5 219v1M269.5 220v1M270.5 221v1M271.5 222v2M272.5 224v2M273.5 226v2M274.5 228v2M275.5 230v2M276.5 232v1M277.5 233v2M278.5 235v1M279.5 236v1M280.5 237v1M283.5 239v1M284.5 240v1M285.5 241v1M286.5 242v1M297.5 244v1M304.5 245v1M309.5 248v1M312.5 250v1M313.5 251v1M314.5 252v1M317.5 254v1M320.5 256v1M325.5 259v1M329.5 259v1M336.5 258v1M337.5 259v1M338.5 260v1M339.5 261v1M340.5 262v1M345.5 265v1M348.5 267v1M349.5 268v2M350.5 270v1M361.5 273v1M369.5 274v1M372.5 274v1M375.5 276v1M376.5 277v1M377.5 278v1M378.5 279v1M379.5 280v1M380.5 281v1M381.5 282v2M382.5 284v1M383.5 285v2M384.5 287v1M385.5 288v3M386.5 291v1M387.5 292v3M388.5 295v1M389.5 296v3M390.5 299v1M391.5 300v1M393.5 302v1M396.5 304v1M399.5 306v1M400.5 307v1M401.5 308v1M402.5 309v1M407.5 311v1M408.5 312v1M409.5 313v3M410.5 316v1M411.5 317v2M412.5 319v2M413.5 321v2M414.5 323v2M415.5 325v1M416.5 326v2M417.5 328v2M418.5 330v2M424.5 334v1M425.5 335v2M426.5 337v1M429.5 339v1M437.5 340v1M440.5 338v1M441.5 336v2M442.5 335v1M443.5 334v1M444.5 332v2M445.5 331v1M446.5 329v2M447.5 328v1M448.5 327v1M451.5 325v1M452.5 324v1M453.5 323v1M454.5 322v1M455.5 321v1M456.5 319v2M457.5 318v1M458.5 316v2M459.5 315v1M460.5 313v2M461.5 312v1M462.5 310v2M463.5 308v2M464.5 307v1M465.5 304v3M466.5 303v1M467.5 301v2M468.5 299v2M469.5 297v2M470.5 295v2M471.5 293v2M472.5 291v2M473.5 288v3M474.5 286v2M475.5 284v2M476.5 283v1M477.5 281v2M478.5 280v1M479.5 279v1M480.5 278v1M483.5 276v1M484.5 274v2M485.5 273v1M486.5 271v2M487.5 270v1M488.5 268v2M489.5 267v1M490.5 265v2M491.5 264v1M492.5 263v1M495.5 261v1M496.5 260v1M505.5 257v1M509.5 255v1M513.5 253v1M516.5 251v1M519.5 249v1M520.5 248v1M525.5 245v1M528.5 243v1M529.5 241v2M530.5 240v1M531.5 239v1M532.5 237v2M533.5 235v2M534.5 233v2M535.5 231v2M536.5 229v2M537.5 227v2M538.5 225v2M539.5 223v2M540.5 222v1M541.5 220v2M542.5 219v1M543.5 218v1M544.5 216v2M545.5 215v1M546.5 213v2M547.5 212v1M548.5 211v1M549.5 209v2M550.5 208v1M551.5 207v1M552.5 206v1M553.5 204v2M554.5 203v1M555.5 202v1M556.5 201v1M585.5 200v1M588.5 202v1M589.5 203v2M590.5 205v1M591.5 206v1M592.5 207v1M593.5 208v1M594.5 209v1M595.5 210v1M596.5 211v1M597.5 212v1M598.5 213v1M601.5 215v1M612.5 216v1M613.5 214v2M614.5 213v1M615.5 212v1M616.5 211v1M617.5 210v1M618.5 209v1M619.5 208v1M620.5 207v1M623.5 205v1M624.5 204v1M625.5 202v2M626.5 201v1M627.5 200v1M628.5 199v1M629.5 198v1M630.5 197v1M633.5 195v1M637.5 193v1M645.5 190v1M656.5 189v1M657.5 190v1M658.5 191v1M659.5 192v1M660.5 193v2M661.5 195v1M662.5 196v2M663.5 198v1M664.5 199v1M665.5 200v2M666.5 202v1M667.5 203v2M668.5 205v2M669.5 207v2M670.5 209v2M671.5 211v3M672.5 214v1M673.5 215v3M674.5 218v1M675.5 219v2M676.5 221v2M677.5 223v2M678.5 225v2M679.5 227v1M680.5 228v2M681.5 230v2M682.5 232v2M683.5 234v1M684.5 235v2M685.5 237v2M686.5 239v2M687.5 241v1M688.5 242v1M689.5 243v1M690.5 244v1M691.5 245v1M692.5 246v1M693.5 247v1M694.5 248v1M697.5 250v1M701.5 252v1M705.5 254v1M712.5 253v1M713.5 252v1M714.5 251v1M715.5 250v1M716.5 249v1M717.5 247v2M718.5 246v1M721.5 244v1M724.5 242v1M727.5 240v1M728.5 239v1M729.5 237v2M730.5 236v1M731.5 235v1M732.5 234v1M733.5 233v1M734.5 232v1M735.5 231v1M736.5 230v1M737.5 228v2M738.5 227v1M739.5 226v1M740.5 225v1M741.5 224v1M742.5 223v1M743.5 222v1M744.5 221v1M745.5 220v1M746.5 219v1M747.5 218v1M748.5 216v2M749.5 215v1M750.5 213v2M751.5 212v1M752.5 210v2M753.5 209v1M754.5 207v2M755.5 205v2M756.5 204v1M757.5 201v3M758.5 200v1M759.5 197v3M760.5 195v2M761.5 193v2M762.5 191v2M763.5 188v3M764.5 187v1M765.5 184v3M766.5 183v1M767.5 180v3M768.5 178v2M769.5 175v3M770.5 173v2M771.5 170v3M772.5 167v3M773.5 165v2M774.5 162v3M775.5 159v3M776.5 157v2M777.5 154v3M778.5 152v2M779.5 149v3M780.5 147v2M781.5 144v3M782.5 142v2M783.5 139v3M784.5 137v2M785.5 135v2M786.5 133v2M787.5 130v3M788.5 128v2M789.5 126v2M790.5 124v2M791.5 121v3M792.5 120v1M793.5 117v3M794.5 116v1M795.5 113v3M796.5 112v1M797.5 109v3M798.5 108v1M799.5 105v3M800.5 104v1M801.5 101v3M802.5 100v1M803.5 98v2M804.5 97v1M805.5 95v2M806.5 94v1M807.5 93v1M808.5 92v1M816.5 88v1M821.5 85v1M825.5 85v1M828.5 87v1M829.5 88v1M830.5 89v1M831.5 90v1M832.5 91v1M833.5 92v2M834.5 94v1M835.5 95v1M836.5 96v2M837.5 98v2M838.5 100v2M839.5 102v1M840.5 103v1M841.5 104v2M842.5 106v1M843.5 107v1M844.5 108v2M845.5 110v1M846.5 111v2M847.5 113v1M848.5 114v1M849.5 115v2M850.5 117v1M851.5 118v1M852.5 119v1M855.5 121v1M856.5 122v1M857.5 123v2M858.5 125v1M859.5 126v1M860.5 127v1M861.5 128v1M862.5 129v1M863.5 130v1M864.5 131v1M867.5 133v1M868.5 134v1M869.5 135v1M870.5 136v1M871.5 137v2M872.5 139v2M873.5 141v2M874.5 143v2M875.5 145v3M876.5 148v2M877.5 150v3M878.5 153v2M879.5 155v2M880.5 157v2M881.5 159v2M882.5 161v2M883.5 163v1M884.5 164v1M885.5 165v1M886.5 166v1M889.5 168v1M893.5 168v1M900.5 169v1M901.5 170v1M902.5 171v1M903.5 172v1M904.5 173v1M905.5 174v2M906.5 176v1M907.5 177v2M908.5 179v2M909.5 181v3M910.5 184v2M911.5 186v3M912.5 189v2M913.5 191v2M914.5 193v2M915.5 195v3M916.5 198v1M917.5 199v3M918.5 202v1M919.5 203v3M920.5 206v2M921.5 208v3M922.5 211v2M923.5 213v3M924.5 216v3M925.5 219v2M926.5 221v3M927.5 224v2M928.5 226v2M929.5 228v2M930.5 230v2M931.5 232v1M932.5 233v2M933.5 235v1M934.5 236v2M935.5 238v1M936.5 239v1M937.5 240v2M938.5 242v1M939.5 243v1M940.5 244v1M941.5 245v2M942.5 247v1M943.5 248v1M944.5 249v2M945.5 251v1M946.5 252v2M947.5 254v1M948.5 255v1M949.5 256v2M950.5 258v1M951.5 259v1M952.5 260v1M953.5 261v1M954.5 262v1M968.5 265v1M969.5 266v2M970.5 268v1M971.5 269v2M972.5 271v2M973.5 273v2M974.5 275v2M975.5 277v3M976.5 280v1M977.5 281v3M978.5 284v1M979.5 285v3M980.5 288v1M981.5 289v3M982.5 292v1M983.5 293v3M984.5 296v1M985.5 297v3M986.5 300v1M987.5 301v2M988.5 303v2M989.5 305v1M990.5 306v2M991.5 308v2M992.5 310v1M993.5 311v3M994.5 314v1M995.5 315v3M996.5 318v2M997.5 320v3M998.5 323v2M999.5 325v2M1000.5 327v2M1001.5 329v2M1002.5 331v2M1003.5 333v1M1004.5 334v2M1005.5 336v1M1006.5 337v2M1007.5 339v1M1008.5 340v2M1009.5 342v2M1010.5 344v2M1011.5 346v1M1012.5 347v2M1013.5 349v1M1014.5 350v2M1015.5 352v2M1016.5 354v2M1017.5 356v2M1018.5 358v2M1019.5 360v1M1024.5 360v1M1025.5 358v2M1026.5 357v1M1027.5 355v2M1028.5 353v2M1029.5 351v2M1030.5 349v2M1031.5 346v3M1032.5 344v2M1033.5 342v2M1034.5 340v2M1035.5 337v3M1036.5 335v2M1037.5 333v2M1038.5 331v2M1039.5 328v3M1040.5 327v1M1041.5 324v3M1042.5 323v1M1043.5 321v2M1044.5 320v1M1047.5 318v1M1048.5 317v1M1049.5 316v1M1050.5 315v1M1051.5 314v1M1052.5 313v1M1053.5 311v2M1054.5 310v1M1055.5 309v1M1056.5 308v1M1057.5 307v1M1058.5 306v1M1065.5 306v1M1076.5 310v1M1077.5 311v2M1078.5 313v1M1079.5 314v1M1080.5 315v1M1083.5 317v1M1084.5 318v1M1085.5 319v2M1086.5 321v1M1092.5 322v1M1100.5 318v1M1101.5 317v1M1102.5 316v1M1103.5 315v1M1104.5 314v1M1107.5 312v1M1108.5 311v1M1109.5 309v2M1110.5 308v1M1117.5 307v1M1125.5 309v1" stroke="#ff0000" stroke-width="1" fill="none" shape-rendering="crispEdges"/>
<path d="M797 81.5h2M799 82.5h3M802 83.5h3M806 85.5h3M810 87.5h2M822 88.5h3M813 89.5h2M818 89.5h4M815 90.5h3M826 90.5h2M870 149.5h2M867 150.5h3M855 152.5h2M858 154.5h3M862 156.5h2M631 166.5h2M634 168.5h6M887 180.5h2M222 182.5h2M890 182.5h2M557 183.5h2M219 184.5h2M893 184.5h2M895 185.5h2M898 187.5h3M902 189.5h3M195 191.5h5M906 191.5h2M214 192.5h2M545 192.5h2M201 193.5h2M211 193.5h3M542 194.5h2M205 196.5h2M539 196.5h2M745 208.5h2M741 211.5h2M737 214.5h2M583 217.5h3M586 218.5h2M589 220.5h2M591 221.5h2M594 223.5h4M598 224.5h4M602 225.5h2M723 226.5h5M290 238.5h4M286 239.5h4M294 239.5h3M283 240.5h3M298 241.5h6M166 242.5h2M963 242.5h5M162 243.5h4M159 244.5h3M278 245.5h2M271 246.5h3M705 246.5h2M274 247.5h3M259 248.5h2M262 250.5h4M266 251.5h2M471 251.5h3M474 252.5h2M477 254.5h2M483 259.5h2M346 260.5h2M691 260.5h5M343 261.5h3M486 261.5h2M341 262.5h2M354 264.5h2M501 264.5h2M337 265.5h2M351 265.5h3M491 265.5h3M494 266.5h6M685 266.5h2M1114 278.5h2M325 279.5h2M107 283.5h2M942 283.5h6M110 285.5h4M370 285.5h2M935 285.5h6M114 286.5h6M367 287.5h2M1043 287.5h5M123 291.5h2M129 291.5h2M375 292.5h2M126 293.5h2M1037 293.5h2M378 294.5h2M393 320.5h3M399 327.5h9M1071 329.5h2M1074 331.5h4M1082 331.5h2M411 332.5h5M1078 332.5h4M425 348.5h2M429 351.5h2M431 352.5h2M434 354.5h2M1001 393.5h2M5 431.5h2M18 436.5h3M15 438.5h2M22 438.5h2M58 488.5h2M55 489.5h3M47 490.5h2M53 490.5h2M50 492.5h2M3.5 433v1M4.5 432v1M7.5 430v1M8.5 431v1M9.5 432v1M10.5 433v1M11.5 434v1M12.5 435v1M13.5 436v1M14.5 437v1M17.5 437v1M21.5 437v1M24.5 439v2M25.5 441v2M26.5 443v2M27.5 445v2M28.5 447v3M29.5 450v2M30.5 452v3M31.5 455v2M32.5 457v2M33.5 459v1M34.5 460v2M35.5 462v2M36.5 464v3M37.5 467v2M38.5 469v3M39.5 472v3M40.5 475v1M41.5 476v3M42.5 479v1M43.5 480v3M44.5 483v2M45.5 485v2M46.5 487v2M47.5 489v1M49.5 491v1M52.5 491v1M59.5 487v1M60.5 485v2M61.5 482v3M62.5 480v2M63.5 476v4M64.5 471v5M65.5 465v6M66.5 460v5M67.5 455v5M68.5 449v6M69.5 443v6M70.5 437v6M71.5 431v6M72.5 425v6M73.5 419v6M74.5 413v6M75.5 407v6M76.5 402v5M77.5 397v5M78.5 392v5M79.5 386v6M80.5 379v7M81.5 372v7M82.5 365v7M83.5 358v7M84.5 351v7M85.5 345v6M86.5 338v7M87.5 333v5M88.5 329v4M89.5 326v3M90.5 322v4M91.5 319v3M92.5 316v3M93.5 312v4M94.5 309v3M95.5 306v3M96.5 303v3M97.5 301v2M98.5 298v3M99.5 295v3M100.5 293v2M101.5 291v2M102.5 289v2M103.5 287v2M104.5 286v1M105.5 285v1M106.5 284v1M109.5 284v1M120.5 287v1M121.5 288v2M122.5 290v1M125.5 292v1M128.5 292v1M131.5 289v2M132.5 288v1M133.5 285v3M134.5 284v1M135.5 282v2M136.5 280v2M137.5 278v2M138.5 276v2M139.5 275v1M140.5 273v2M141.5 272v1M142.5 270v2M143.5 269v1M144.5 268v1M145.5 266v2M146.5 265v1M147.5 263v2M148.5 262v1M149.5 259v3M150.5 258v1M151.5 256v2M152.5 254v2M153.5 252v2M154.5 250v2M155.5 249v1M156.5 248v1M157.5 246v2M158.5 245v1M168.5 240v2M169.5 239v1M170.5 237v2M171.5 235v2M172.5 233v2M173.5 231v2M174.5 229v2M175.5 226v3M176.5 223v3M177.5 219v4M178.5 216v3M179.5 214v2M180.5 212v2M181.5 211v1M182.5 209v2M183.5 208v1M184.5 207v1M185.5 205v2M186.5 204v1M187.5 203v1M188.5 202v1M189.5 200v2M190.5 199v1M191.5 198v1M192.5 196v2M193.5 194v2M194.5 192v2M200.5 192v1M203.5 194v1M204.5 195v1M207.5 197v1M208.5 196v1M209.5 195v1M210.5 194v1M215.5 191v1M216.5 190v1M217.5 187v3M218.5 186v1M219.5 185v1M221.5 183v1M224.5 181v1M225.5 180v1M226.5 179v1M227.5 178v1M228.5 176v2M229.5 175v1M230.5 173v2M231.5 172v1M232.5 173v2M233.5 175v2M234.5 177v2M235.5 179v1M236.5 180v2M237.5 182v1M238.5 183v2M239.5 185v2M240.5 187v3M241.5 190v4M242.5 194v3M243.5 197v4M244.5 201v3M245.5 204v5M246.5 209v3M247.5 212v4M248.5 216v3M249.5 219v3M250.5 222v3M251.5 225v3M252.5 228v3M253.5 231v3M254.5 234v3M255.5 237v3M256.5 240v2M257.5 242v3M258.5 245v2M259.5 247v1M261.5 249v1M268.5 250v1M269.5 248v2M270.5 247v1M277.5 246v1M280.5 244v1M281.5 242v2M282.5 241v1M297.5 240v1M304.5 242v2M305.5 244v2M306.5 246v2M307.5 248v2M308.5 250v2M309.5 252v3M310.5 255v2M311.5 257v3M312.5 260v2M313.5 262v2M314.5 264v2M315.5 266v2M316.5 268v1M317.5 269v2M318.5 271v1M319.5 272v1M320.5 273v1M321.5 274v2M322.5 276v1M323.5 277v1M324.5 278v1M327.5 280v1M328.5 279v1M329.5 277v2M330.5 276v1M331.5 274v2M332.5 273v1M333.5 270v3M334.5 269v1M335.5 267v2M336.5 266v1M339.5 264v1M340.5 263v1M348.5 261v1M349.5 262v2M350.5 264v1M356.5 265v1M357.5 266v2M358.5 268v1M359.5 269v2M360.5 271v3M361.5 274v2M362.5 276v3M363.5 279v2M364.5 281v2M365.5 283v2M366.5 285v2M369.5 286v1M372.5 286v2M373.5 288v2M374.5 290v2M377.5 293v1M379.5 295v1M380.5 296v3M381.5 299v2M382.5 301v3M383.5 304v3M384.5 307v3M385.5 310v4M386.5 314v3M387.5 317v2M388.5 319v1M389.5 320v1M390.5 321v1M391.5 322v1M392.5 321v1M395.5 319v1M396.5 321v1M397.5 322v3M398.5 325v1M399.5 326v1M408.5 328v1M409.5 329v2M410.5 331v1M415.5 333v1M416.5 334v2M417.5 336v2M418.5 338v2M419.5 340v2M420.5 342v1M421.5 343v2M422.5 345v1M423.5 346v1M424.5 347v1M427.5 349v1M428.5 350v1M433.5 353v1M435.5 353v1M436.5 352v1M437.5 349v3M438.5 348v1M439.5 345v3M440.5 343v2M441.5 341v2M442.5 339v2M443.5 335v4M444.5 329v6M445.5 324v5M446.5 318v6M447.5 314v4M448.5 311v3M449.5 309v2M450.5 306v3M451.5 303v3M452.5 300v3M453.5 297v3M454.5 294v3M455.5 291v3M456.5 288v3M457.5 284v4M458.5 281v3M459.5 278v3M460.5 274v4M461.5 270v4M462.5 266v4M463.5 263v3M464.5 262v1M465.5 259v3M466.5 258v1M467.5 256v2M468.5 255v1M469.5 253v2M470.5 252v1M476.5 253v1M479.5 255v1M480.5 256v1M481.5 257v1M482.5 258v1M485.5 260v1M488.5 262v1M489.5 263v1M490.5 264v1M500.5 265v1M503.5 263v1M504.5 262v1M505.5 260v2M506.5 259v1M507.5 257v2M508.5 256v1M509.5 253v3M510.5 252v1M511.5 249v3M512.5 248v1M513.5 245v3M514.5 244v1M515.5 241v3M516.5 239v2M517.5 237v2M518.5 235v2M519.5 233v2M520.5 231v2M521.5 230v1M522.5 228v2M523.5 227v1M524.5 226v1M525.5 225v1M526.5 224v1M527.5 222v2M528.5 220v2M529.5 218v2M530.5 216v2M531.5 213v3M532.5 212v1M533.5 209v3M534.5 208v1M535.5 205v3M536.5 203v2M537.5 200v3M538.5 198v2M539.5 197v1M541.5 195v1M544.5 193v1M547.5 191v1M548.5 190v1M549.5 188v2M550.5 187v1M551.5 186v1M552.5 185v1M553.5 183v2M554.5 182v1M555.5 181v1M556.5 182v1M559.5 184v1M560.5 185v2M561.5 187v1M562.5 188v2M563.5 190v2M564.5 192v1M565.5 193v3M566.5 196v1M567.5 197v2M568.5 199v1M569.5 200v2M570.5 202v1M571.5 203v1M572.5 204v1M573.5 205v2M574.5 207v1M575.5 208v1M576.5 209v1M577.5 210v1M578.5 211v1M579.5 212v1M580.5 213v1M581.5 214v2M582.5 216v1M588.5 219v1M593.5 222v1M604.5 224v1M605.5 223v1M606.5 222v1M607.5 221v1M608.5 220v1M609.5 218v2M610.5 217v1M611.5 215v2M612.5 213v2M613.5 210v3M614.5 208v2M615.5 205v3M616.5 202v3M617.5 200v2M618.5 197v3M619.5 194v3M620.5 193v1M621.5 190v3M622.5 189v1M623.5 186v3M624.5 183v3M625.5 180v3M626.5 177v3M627.5 174v3M628.5 172v2M629.5 170v2M630.5 168v2M631.5 167v1M633.5 167v1M639.5 169v1M640.5 170v2M641.5 172v2M642.5 174v2M643.5 176v2M644.5 178v1M645.5 179v2M646.5 181v1M647.5 182v1M648.5 183v2M649.5 185v2M650.5 187v2M651.5 189v2M652.5 191v3M653.5 194v3M654.5 197v3M655.5 200v4M656.5 204v3M657.5 207v5M658.5 212v3M659.5 215v4M660.5 219v3M661.5 222v3M662.5 225v3M663.5 228v3M664.5 231v2M665.5 233v2M666.5 235v2M667.5 237v3M668.5 240v2M669.5 242v2M670.5 244v2M671.5 246v3M672.5 249v2M673.5 251v3M674.5 254v2M675.5 256v2M676.5 258v2M677.5 260v2M678.5 262v2M679.5 264v1M680.5 265v1M681.5 266v1M682.5 267v1M683.5 268v1M684.5 267v1M687.5 265v1M688.5 264v1M689.5 262v2M690.5 261v1M696.5 258v2M697.5 257v1M698.5 255v2M699.5 254v1M700.5 252v2M701.5 251v1M702.5 249v2M703.5 248v1M704.5 247v1M707.5 245v1M708.5 244v1M709.5 242v2M710.5 241v1M711.5 240v1M712.5 239v1M713.5 237v2M714.5 236v1M715.5 235v1M716.5 234v1M717.5 232v2M718.5 231v1M719.5 230v1M720.5 229v1M721.5 228v1M722.5 227v1M728.5 225v1M729.5 224v1M730.5 223v1M731.5 222v1M732.5 220v2M733.5 219v1M734.5 217v2M735.5 216v1M736.5 215v1M739.5 213v1M740.5 212v1M743.5 210v1M744.5 209v1M747.5 206v2M748.5 204v2M749.5 202v2M750.5 200v2M751.5 197v3M752.5 194v3M753.5 192v2M754.5 189v3M755.5 186v3M756.5 183v3M757.5 179v4M758.5 176v3M759.5 173v3M760.5 170v3M761.5 167v3M762.5 164v3M763.5 161v3M764.5 158v3M765.5 154v4M766.5 151v3M767.5 147v4M768.5 143v4M769.5 138v5M770.5 134v4M771.5 129v5M772.5 125v4M773.5 121v4M774.5 117v4M775.5 113v4M776.5 110v3M777.5 106v4M778.5 103v3M779.5 100v3M780.5 98v2M781.5 96v2M782.5 94v2M783.5 92v2M784.5 91v1M785.5 90v1M786.5 89v1M787.5 88v1M788.5 87v1M789.5 85v2M790.5 84v1M791.5 83v1M792.5 82v1M793.5 81v1M794.5 80v1M795.5 79v1M796.5 80v1M805.5 84v1M809.5 86v1M812.5 88v1M825.5 89v1M828.5 91v2M829.5 93v2M830.5 95v2M831.5 97v2M832.5 99v1M833.5 100v3M834.5 103v1M835.5 104v3M836.5 107v3M837.5 110v3M838.5 113v3M839.5 116v3M840.5 119v1M841.5 120v3M842.5 123v1M843.5 124v3M844.5 127v3M845.5 130v3M846.5 133v3M847.5 136v3M848.5 139v3M849.5 142v2M850.5 144v3M851.5 147v2M852.5 149v1M853.5 150v1M854.5 151v1M857.5 153v1M861.5 155v1M864.5 154v2M865.5 153v1M866.5 151v2M872.5 150v2M873.5 152v1M874.5 153v2M875.5 155v2M876.5 157v2M877.5 159v2M878.5 161v2M879.5 163v3M880.5 166v2M881.5 168v2M882.5 170v2M883.5 172v2M884.5 174v2M885.5 176v2M886.5 178v2M889.5 181v1M892.5 183v1M897.5 186v1M901.5 188v1M905.5 190v1M907.5 192v1M908.5 193v2M909.5 195v3M910.5 198v2M911.5 200v3M912.5 203v3M913.5 206v2M914.5 208v3M915.5 211v3M916.5 214v4M917.5 218v3M918.5 221v4M919.5 225v4M920.5 229v4M921.5 233v4M922.5 237v4M923.5 241v5M924.5 246v5M925.5 251v6M926.5 257v5M927.5 262v4M928.5 266v2M929.5 268v3M930.5 271v2M931.5 273v3M932.5 276v3M933.5 279v2M934.5 281v3M935.5 284v1M941.5 284v1M947.5 282v1M948.5 281v1M949.5 278v3M950.5 277v1M951.5 274v3M952.5 271v3M953.5 268v3M954.5 265v3M955.5 262v3M956.5 260v2M957.5 258v2M958.5 256v2M959.5 253v3M960.5 250v3M961.5 247v3M962.5 244v3M963.5 243v1M967.5 243v1M968.5 244v4M969.5 248v3M970.5 251v4M971.5 255v4M972.5 259v4M973.5 263v4M974.5 267v4M975.5 271v6M976.5 277v5M977.5 282v7M978.5 289v5M979.5 294v7M980.5 301v7M981.5 308v7M982.5 315v7M983.5 322v7M984.5 329v5M985.5 334v7M986.5 341v5M987.5 346v7M988.5 353v5M989.5 358v7M990.5 365v5M991.5 370v6M992.5 376v3M993.5 379v5M994.5 384v3M995.5 387v3M996.5 390v2M997.5 392v1M998.5 393v2M999.5 395v1M1000.5 394v1M1003.5 391v2M1004.5 388v3M1005.5 385v3M1006.5 382v3M1007.5 379v3M1008.5 376v3M1009.5 372v4M1010.5 369v3M1011.5 366v3M1012.5 363v3M1013.5 361v2M1014.5 358v3M1015.5 355v3M1016.5 354v1M1017.5 351v3M1018.5 350v1M1019.5 347v3M1020.5 343v4M1021.5 339v4M1022.5 335v4M1023.5 331v4M1024.5 327v4M1025.5 323v4M1026.5 319v4M1027.5 315v4M1028.5 311v4M1029.5 307v4M1030.5 303v4M1031.5 301v2M1032.5 299v2M1033.5 298v1M1034.5 296v2M1035.5 295v1M1036.5 294v1M1039.5 292v1M1040.5 291v1M1041.5 289v2M1042.5 288v1M1047.5 288v1M1048.5 289v1M1049.5 290v3M1050.5 293v1M1051.5 294v2M1052.5 296v2M1053.5 298v2M1054.5 300v2M1055.5 302v1M1056.5 303v2M1057.5 305v2M1058.5 307v2M1059.5 309v1M1060.5 310v2M1061.5 312v1M1062.5 313v2M1063.5 315v1M1064.5 316v2M1065.5 318v1M1066.5 319v2M1067.5 321v2M1068.5 323v1M1069.5 324v3M1070.5 327v1M1071.5 328v1M1073.5 330v1M1084.5 332v1M1085.5 333v1M1086.5 334v1M1087.5 335v1M1088.5 334v1M1089.5 333v1M1090.5 332v1M1091.5 330v2M1092.5 327v3M1093.5 324v3M1094.5 321v3M1095.5 318v3M1096.5 315v3M1097.5 313v2M1098.5 310v3M1099.5 307v3M1100.5 305v2M1101.5 303v2M1102.5 301v2M1103.5 299v2M1104.5 297v2M1105.5 295v2M1106.5 293v2M1107.5 291v2M1108.5 289v2M1109.5 287v2M1110.5 285v2M1111.5 283v2M1112.5 281v2M1113.5 280v1M1114.5 279v1M1115.5 277v1M1116.5 279v2M1117.5 281v2M1118.5 283v2M1119.5 285v3M1120.5 288v3M1121.5 291v3M1122.5 294v3M1123.5 297v3M1124.5 300v3M1125.5 303v4M1126.5 307v3M1127.5 310v2" stroke="#0000cd" stroke-width="1" fill="none" shape-rendering="crispEdges"/>
<rect x="1420" y="360" width="41" height="11" fill="#000"/>
<text x="1424.5" y="369" font-size="10.3" fill="#fff" stroke="#fff" stroke-width="0.16" textLength="32.5" lengthAdjust="spacingAndGlyphs">0.97973</text>
<rect x="3" y="132" width="1416" height="3" fill="#ff0000"/>
<rect x="1420" y="127" width="41" height="11" fill="#ff0000"/>
<text x="1424.5" y="136" font-size="10.3" fill="#fff" stroke="#fff" stroke-width="0.16" textLength="32.5" lengthAdjust="spacingAndGlyphs">1.01205</text>
<rect x="3" y="211" width="1416" height="3" fill="#ff0000"/>
<rect x="1420" y="206" width="41" height="11" fill="#ff0000"/>
<text x="1424.5" y="215" font-size="10.3" fill="#fff" stroke="#fff" stroke-width="0.16" textLength="32.5" lengthAdjust="spacingAndGlyphs">1.00106</text>
<rect x="3" y="261" width="1416" height="3" fill="#00ff00"/>
<rect x="1420" y="256" width="41" height="11" fill="#00ff00"/>
<text x="1424.5" y="265" font-size="10.3" fill="#fff" stroke="#fff" stroke-width="0.16" textLength="32.5" lengthAdjust="spacingAndGlyphs">0.99406</text>
<rect x="3" y="362" width="1416" height="3" fill="#0000ff"/>
<rect x="1420" y="357" width="41" height="11" fill="#0000ff"/>
<text x="1424.5" y="366" font-size="10.3" fill="#fff" stroke="#fff" stroke-width="0.16" textLength="32.5" lengthAdjust="spacingAndGlyphs">0.98004</text>
<rect x="3" y="434" width="1416" height="3" fill="#0000ff"/>
<rect x="1420" y="429" width="41" height="11" fill="#0000ff"/>
<text x="1424.5" y="438" font-size="10.3" fill="#fff" stroke="#fff" stroke-width="0.16" textLength="32.5" lengthAdjust="spacingAndGlyphs">0.97001</text>
<g><rect x="3" y="611" width="1" height="39" fill="#c0c0c0"/><rect x="7" y="611" width="1" height="37" fill="#c0c0c0"/><rect x="11" y="611" width="1" height="36" fill="#c0c0c0"/><rect x="15" y="611" width="1" height="38" fill="#c0c0c0"/><rect x="19" y="611" width="1" height="38" fill="#c0c0c0"/><rect x="23" y="611" width="1" height="37" fill="#c0c0c0"/><rect x="27" y="611" width="1" height="39" fill="#c0c0c0"/><rect x="31" y="611" width="1" height="40" fill="#c0c0c0"/><rect x="35" y="611" width="1" height="37" fill="#c0c0c0"/><rect x="39" y="611" width="1" height="40" fill="#c0c0c0"/><rect x="43" y="611" width="1" height="42" fill="#c0c0c0"/><rect x="47" y="611" width="1" height="43" fill="#c0c0c0"/><rect x="51" y="611" width="1" height="40" fill="#c0c0c0"/><rect x="55" y="611" width="1" height="36" fill="#c0c0c0"/><rect x="59" y="611" width="1" height="34" fill="#c0c0c0"/><rect x="63" y="611" width="1" height="24" fill="#c0c0c0"/><rect x="67" y="611" width="1" height="15" fill="#c0c0c0"/><rect x="71" y="611" width="1" height="6" fill="#c0c0c0"/><rect x="75" y="610" width="1" height="2" fill="#c0c0c0"/><rect x="79" y="604" width="1" height="8" fill="#c0c0c0"/><rect x="83" y="594" width="1" height="18" fill="#c0c0c0"/><rect x="87" y="587" width="1" height="25" fill="#c0c0c0"/><rect x="91" y="582" width="1" height="30" fill="#c0c0c0"/><rect x="95" y="578" width="1" height="34" fill="#c0c0c0"/><rect x="99" y="575" width="1" height="37" fill="#c0c0c0"/><rect x="103" y="573" width="1" height="39" fill="#c0c0c0"/><rect x="107" y="574" width="1" height="38" fill="#c0c0c0"/><rect x="111" y="575" width="1" height="37" fill="#c0c0c0"/><rect x="115" y="575" width="1" height="37" fill="#c0c0c0"/><rect x="119" y="576" width="1" height="36" fill="#c0c0c0"/><rect x="123" y="579" width="1" height="33" fill="#c0c0c0"/><rect x="127" y="579" width="1" height="33" fill="#c0c0c0"/><rect x="131" y="578" width="1" height="34" fill="#c0c0c0"/><rect x="135" y="577" width="1" height="35" fill="#c0c0c0"/><rect x="139" y="575" width="1" height="37" fill="#c0c0c0"/><rect x="143" y="575" width="1" height="37" fill="#c0c0c0"/><rect x="147" y="575" width="1" height="37" fill="#c0c0c0"/><rect x="151" y="577" width="1" height="35" fill="#c0c0c0"/><rect x="155" y="577" width="1" height="35" fill="#c0c0c0"/><rect x="159" y="576" width="1" height="36" fill="#c0c0c0"/><rect x="163" y="577" width="1" height="35" fill="#c0c0c0"/><rect x="167" y="578" width="1" height="34" fill="#c0c0c0"/><rect x="171" y="577" width="1" height="35" fill="#c0c0c0"/><rect x="175" y="574" width="1" height="38" fill="#c0c0c0"/><rect x="179" y="571" width="1" height="41" fill="#c0c0c0"/><rect x="183" y="572" width="1" height="40" fill="#c0c0c0"/><rect x="187" y="572" width="1" height="40" fill="#c0c0c0"/><rect x="191" y="574" width="1" height="38" fill="#c0c0c0"/><rect x="195" y="575" width="1" height="37" fill="#c0c0c0"/><rect x="199" y="578" width="1" height="34" fill="#c0c0c0"/><rect x="203" y="580" width="1" height="32" fill="#c0c0c0"/><rect x="207" y="580" width="1" height="32" fill="#c0c0c0"/><rect x="211" y="580" width="1" height="32" fill="#c0c0c0"/><rect x="215" y="581" width="1" height="31" fill="#c0c0c0"/><rect x="219" y="579" width="1" height="33" fill="#c0c0c0"/><rect x="223" y="580" width="1" height="32" fill="#c0c0c0"/><rect x="227" y="582" width="1" height="30" fill="#c0c0c0"/><rect x="231" y="583" width="1" height="29" fill="#c0c0c0"/><rect x="235" y="588" width="1" height="24" fill="#c0c0c0"/><rect x="239" y="593" width="1" height="19" fill="#c0c0c0"/><rect x="243" y="600" width="1" height="12" fill="#c0c0c0"/><rect x="247" y="605" width="1" height="7" fill="#c0c0c0"/><rect x="251" y="610" width="1" height="2" fill="#c0c0c0"/><rect x="255" y="611" width="1" height="1" fill="#c0c0c0"/><rect x="259" y="611" width="1" height="2" fill="#c0c0c0"/><rect x="263" y="611" width="1" height="3" fill="#c0c0c0"/><rect x="267" y="611" width="1" height="3" fill="#c0c0c0"/><rect x="271" y="611" width="1" height="2" fill="#c0c0c0"/><rect x="275" y="611" width="1" height="5" fill="#c0c0c0"/><rect x="279" y="611" width="1" height="6" fill="#c0c0c0"/><rect x="283" y="611" width="1" height="4" fill="#c0c0c0"/><rect x="287" y="611" width="1" height="3" fill="#c0c0c0"/><rect x="291" y="611" width="1" height="3" fill="#c0c0c0"/><rect x="295" y="611" width="1" height="3" fill="#c0c0c0"/><rect x="299" y="611" width="1" height="4" fill="#c0c0c0"/><rect x="303" y="611" width="1" height="6" fill="#c0c0c0"/><rect x="307" y="611" width="1" height="10" fill="#c0c0c0"/><rect x="311" y="611" width="1" height="13" fill="#c0c0c0"/><rect x="315" y="611" width="1" height="15" fill="#c0c0c0"/><rect x="319" y="611" width="1" height="14" fill="#c0c0c0"/><rect x="323" y="611" width="1" height="14" fill="#c0c0c0"/><rect x="327" y="611" width="1" height="13" fill="#c0c0c0"/><rect x="331" y="611" width="1" height="10" fill="#c0c0c0"/><rect x="335" y="611" width="1" height="7" fill="#c0c0c0"/><rect x="339" y="611" width="1" height="8" fill="#c0c0c0"/><rect x="343" y="611" width="1" height="8" fill="#c0c0c0"/><rect x="347" y="611" width="1" height="8" fill="#c0c0c0"/><rect x="351" y="611" width="1" height="12" fill="#c0c0c0"/><rect x="355" y="611" width="1" height="10" fill="#c0c0c0"/><rect x="359" y="611" width="1" height="9" fill="#c0c0c0"/><rect x="363" y="611" width="1" height="12" fill="#c0c0c0"/><rect x="367" y="611" width="1" height="15" fill="#c0c0c0"/><rect x="371" y="611" width="1" height="12" fill="#c0c0c0"/><rect x="375" y="611" width="1" height="14" fill="#c0c0c0"/><rect x="379" y="611" width="1" height="16" fill="#c0c0c0"/><rect x="383" y="611" width="1" height="19" fill="#c0c0c0"/><rect x="387" y="611" width="1" height="22" fill="#c0c0c0"/><rect x="391" y="611" width="1" height="24" fill="#c0c0c0"/><rect x="395" y="611" width="1" height="21" fill="#c0c0c0"/><rect x="399" y="611" width="1" height="20" fill="#c0c0c0"/><rect x="403" y="611" width="1" height="19" fill="#c0c0c0"/><rect x="407" y="611" width="1" height="18" fill="#c0c0c0"/><rect x="411" y="611" width="1" height="22" fill="#c0c0c0"/><rect x="415" y="611" width="1" height="23" fill="#c0c0c0"/><rect x="419" y="611" width="1" height="28" fill="#c0c0c0"/><rect x="423" y="611" width="1" height="26" fill="#c0c0c0"/><rect x="427" y="611" width="1" height="23" fill="#c0c0c0"/><rect x="431" y="611" width="1" height="21" fill="#c0c0c0"/><rect x="435" y="611" width="1" height="20" fill="#c0c0c0"/><rect x="439" y="611" width="1" height="16" fill="#c0c0c0"/><rect x="443" y="611" width="1" height="12" fill="#c0c0c0"/><rect x="447" y="611" width="1" height="5" fill="#c0c0c0"/><rect x="451" y="611" width="1" height="1" fill="#c0c0c0"/><rect x="455" y="607" width="1" height="5" fill="#c0c0c0"/><rect x="459" y="603" width="1" height="9" fill="#c0c0c0"/><rect x="463" y="600" width="1" height="12" fill="#c0c0c0"/><rect x="467" y="598" width="1" height="14" fill="#c0c0c0"/><rect x="471" y="597" width="1" height="15" fill="#c0c0c0"/><rect x="475" y="598" width="1" height="14" fill="#c0c0c0"/><rect x="479" y="599" width="1" height="13" fill="#c0c0c0"/><rect x="483" y="600" width="1" height="12" fill="#c0c0c0"/><rect x="487" y="600" width="1" height="12" fill="#c0c0c0"/><rect x="491" y="600" width="1" height="12" fill="#c0c0c0"/><rect x="495" y="600" width="1" height="12" fill="#c0c0c0"/><rect x="499" y="600" width="1" height="12" fill="#c0c0c0"/><rect x="503" y="600" width="1" height="12" fill="#c0c0c0"/><rect x="507" y="598" width="1" height="14" fill="#c0c0c0"/><rect x="511" y="596" width="1" height="16" fill="#c0c0c0"/><rect x="515" y="593" width="1" height="19" fill="#c0c0c0"/><rect x="519" y="591" width="1" height="21" fill="#c0c0c0"/><rect x="523" y="591" width="1" height="21" fill="#c0c0c0"/><rect x="527" y="592" width="1" height="20" fill="#c0c0c0"/><rect x="531" y="590" width="1" height="22" fill="#c0c0c0"/><rect x="535" y="587" width="1" height="25" fill="#c0c0c0"/><rect x="539" y="584" width="1" height="28" fill="#c0c0c0"/><rect x="543" y="584" width="1" height="28" fill="#c0c0c0"/><rect x="547" y="584" width="1" height="28" fill="#c0c0c0"/><rect x="551" y="585" width="1" height="27" fill="#c0c0c0"/><rect x="555" y="586" width="1" height="26" fill="#c0c0c0"/><rect x="559" y="589" width="1" height="23" fill="#c0c0c0"/><rect x="563" y="592" width="1" height="20" fill="#c0c0c0"/><rect x="567" y="594" width="1" height="18" fill="#c0c0c0"/><rect x="571" y="597" width="1" height="15" fill="#c0c0c0"/><rect x="575" y="599" width="1" height="13" fill="#c0c0c0"/><rect x="579" y="601" width="1" height="11" fill="#c0c0c0"/><rect x="583" y="603" width="1" height="9" fill="#c0c0c0"/><rect x="587" y="604" width="1" height="8" fill="#c0c0c0"/><rect x="591" y="607" width="1" height="5" fill="#c0c0c0"/><rect x="595" y="607" width="1" height="5" fill="#c0c0c0"/><rect x="599" y="609" width="1" height="3" fill="#c0c0c0"/><rect x="603" y="610" width="1" height="2" fill="#c0c0c0"/><rect x="607" y="607" width="1" height="5" fill="#c0c0c0"/><rect x="611" y="605" width="1" height="7" fill="#c0c0c0"/><rect x="615" y="600" width="1" height="12" fill="#c0c0c0"/><rect x="619" y="598" width="1" height="14" fill="#c0c0c0"/><rect x="623" y="597" width="1" height="15" fill="#c0c0c0"/><rect x="627" y="594" width="1" height="18" fill="#c0c0c0"/><rect x="631" y="594" width="1" height="18" fill="#c0c0c0"/><rect x="635" y="597" width="1" height="15" fill="#c0c0c0"/><rect x="639" y="599" width="1" height="13" fill="#c0c0c0"/><rect x="643" y="601" width="1" height="11" fill="#c0c0c0"/><rect x="647" y="603" width="1" height="9" fill="#c0c0c0"/><rect x="651" y="606" width="1" height="6" fill="#c0c0c0"/><rect x="655" y="609" width="1" height="3" fill="#c0c0c0"/><rect x="659" y="611" width="1" height="4" fill="#c0c0c0"/><rect x="663" y="611" width="1" height="9" fill="#c0c0c0"/><rect x="667" y="611" width="1" height="12" fill="#c0c0c0"/><rect x="671" y="611" width="1" height="14" fill="#c0c0c0"/><rect x="675" y="611" width="1" height="16" fill="#c0c0c0"/><rect x="679" y="611" width="1" height="17" fill="#c0c0c0"/><rect x="683" y="611" width="1" height="17" fill="#c0c0c0"/><rect x="687" y="611" width="1" height="16" fill="#c0c0c0"/><rect x="691" y="611" width="1" height="15" fill="#c0c0c0"/><rect x="695" y="611" width="1" height="15" fill="#c0c0c0"/><rect x="699" y="611" width="1" height="12" fill="#c0c0c0"/><rect x="703" y="611" width="1" height="10" fill="#c0c0c0"/><rect x="707" y="611" width="1" height="9" fill="#c0c0c0"/><rect x="711" y="611" width="1" height="7" fill="#c0c0c0"/><rect x="715" y="611" width="1" height="5" fill="#c0c0c0"/><rect x="719" y="611" width="1" height="3" fill="#c0c0c0"/><rect x="723" y="611" width="1" height="2" fill="#c0c0c0"/><rect x="727" y="611" width="1" height="1" fill="#c0c0c0"/><rect x="731" y="611" width="1" height="1" fill="#c0c0c0"/><rect x="735" y="609" width="1" height="3" fill="#c0c0c0"/><rect x="739" y="607" width="1" height="5" fill="#c0c0c0"/><rect x="743" y="606" width="1" height="6" fill="#c0c0c0"/><rect x="747" y="605" width="1" height="7" fill="#c0c0c0"/><rect x="751" y="601" width="1" height="11" fill="#c0c0c0"/><rect x="755" y="597" width="1" height="15" fill="#c0c0c0"/><rect x="759" y="591" width="1" height="21" fill="#c0c0c0"/><rect x="763" y="588" width="1" height="24" fill="#c0c0c0"/><rect x="767" y="584" width="1" height="28" fill="#c0c0c0"/><rect x="771" y="579" width="1" height="33" fill="#c0c0c0"/><rect x="775" y="575" width="1" height="37" fill="#c0c0c0"/><rect x="779" y="573" width="1" height="39" fill="#c0c0c0"/><rect x="783" y="572" width="1" height="40" fill="#c0c0c0"/><rect x="787" y="572" width="1" height="40" fill="#c0c0c0"/><rect x="791" y="572" width="1" height="40" fill="#c0c0c0"/><rect x="795" y="573" width="1" height="39" fill="#c0c0c0"/><rect x="799" y="575" width="1" height="37" fill="#c0c0c0"/><rect x="803" y="576" width="1" height="36" fill="#c0c0c0"/><rect x="807" y="578" width="1" height="34" fill="#c0c0c0"/><rect x="811" y="580" width="1" height="32" fill="#c0c0c0"/><rect x="815" y="583" width="1" height="29" fill="#c0c0c0"/><rect x="819" y="583" width="1" height="29" fill="#c0c0c0"/><rect x="823" y="584" width="1" height="28" fill="#c0c0c0"/><rect x="827" y="587" width="1" height="25" fill="#c0c0c0"/><rect x="831" y="592" width="1" height="20" fill="#c0c0c0"/><rect x="835" y="597" width="1" height="15" fill="#c0c0c0"/><rect x="839" y="604" width="1" height="8" fill="#c0c0c0"/><rect x="843" y="608" width="1" height="4" fill="#c0c0c0"/><rect x="847" y="611" width="1" height="1" fill="#c0c0c0"/><rect x="851" y="611" width="1" height="1" fill="#c0c0c0"/><rect x="855" y="611" width="1" height="1" fill="#c0c0c0"/><rect x="859" y="611" width="1" height="2" fill="#c0c0c0"/><rect x="863" y="611" width="1" height="4" fill="#c0c0c0"/><rect x="867" y="611" width="1" height="3" fill="#c0c0c0"/><rect x="871" y="611" width="1" height="5" fill="#c0c0c0"/><rect x="875" y="611" width="1" height="9" fill="#c0c0c0"/><rect x="879" y="611" width="1" height="13" fill="#c0c0c0"/><rect x="883" y="611" width="1" height="16" fill="#c0c0c0"/><rect x="887" y="611" width="1" height="17" fill="#c0c0c0"/><rect x="891" y="611" width="1" height="16" fill="#c0c0c0"/><rect x="895" y="611" width="1" height="14" fill="#c0c0c0"/><rect x="899" y="611" width="1" height="13" fill="#c0c0c0"/><rect x="903" y="611" width="1" height="16" fill="#c0c0c0"/><rect x="907" y="611" width="1" height="18" fill="#c0c0c0"/><rect x="911" y="611" width="1" height="24" fill="#c0c0c0"/><rect x="915" y="611" width="1" height="29" fill="#c0c0c0"/><rect x="919" y="611" width="1" height="31" fill="#c0c0c0"/><rect x="923" y="611" width="1" height="34" fill="#c0c0c0"/><rect x="927" y="611" width="1" height="39" fill="#c0c0c0"/><rect x="931" y="611" width="1" height="40" fill="#c0c0c0"/><rect x="935" y="611" width="1" height="41" fill="#c0c0c0"/><rect x="939" y="611" width="1" height="39" fill="#c0c0c0"/><rect x="943" y="611" width="1" height="36" fill="#c0c0c0"/><rect x="947" y="611" width="1" height="34" fill="#c0c0c0"/><rect x="951" y="611" width="1" height="29" fill="#c0c0c0"/><rect x="955" y="611" width="1" height="25" fill="#c0c0c0"/><rect x="959" y="611" width="1" height="21" fill="#c0c0c0"/><rect x="963" y="611" width="1" height="17" fill="#c0c0c0"/><rect x="967" y="611" width="1" height="18" fill="#c0c0c0"/><rect x="971" y="611" width="1" height="26" fill="#c0c0c0"/><rect x="975" y="611" width="1" height="34" fill="#c0c0c0"/><rect x="979" y="611" width="1" height="41" fill="#c0c0c0"/><rect x="983" y="611" width="1" height="47" fill="#c0c0c0"/><rect x="987" y="611" width="1" height="51" fill="#c0c0c0"/><rect x="991" y="611" width="1" height="51" fill="#c0c0c0"/><rect x="995" y="611" width="1" height="51" fill="#c0c0c0"/><rect x="999" y="611" width="1" height="52" fill="#c0c0c0"/><rect x="1003" y="611" width="1" height="49" fill="#c0c0c0"/><rect x="1007" y="611" width="1" height="41" fill="#c0c0c0"/><rect x="1011" y="611" width="1" height="36" fill="#c0c0c0"/><rect x="1015" y="611" width="1" height="32" fill="#c0c0c0"/><rect x="1019" y="611" width="1" height="29" fill="#c0c0c0"/><rect x="1023" y="611" width="1" height="21" fill="#c0c0c0"/><rect x="1027" y="611" width="1" height="16" fill="#c0c0c0"/><rect x="1031" y="611" width="1" height="10" fill="#c0c0c0"/><rect x="1035" y="611" width="1" height="5" fill="#c0c0c0"/><rect x="1039" y="611" width="1" height="5" fill="#c0c0c0"/><rect x="1043" y="611" width="1" height="3" fill="#c0c0c0"/><rect x="1047" y="611" width="1" height="5" fill="#c0c0c0"/><rect x="1051" y="611" width="1" height="7" fill="#c0c0c0"/><rect x="1055" y="611" width="1" height="8" fill="#c0c0c0"/><rect x="1059" y="611" width="1" height="7" fill="#c0c0c0"/><rect x="1063" y="611" width="1" height="6" fill="#c0c0c0"/><rect x="1067" y="611" width="1" height="8" fill="#c0c0c0"/><rect x="1071" y="611" width="1" height="10" fill="#c0c0c0"/><rect x="1075" y="611" width="1" height="11" fill="#c0c0c0"/><rect x="1079" y="611" width="1" height="12" fill="#c0c0c0"/><rect x="1083" y="611" width="1" height="10" fill="#c0c0c0"/><rect x="1087" y="611" width="1" height="10" fill="#c0c0c0"/><rect x="1091" y="611" width="1" height="6" fill="#c0c0c0"/><rect x="1095" y="611" width="1" height="1" fill="#c0c0c0"/><rect x="1099" y="609" width="1" height="3" fill="#c0c0c0"/><rect x="1103" y="607" width="1" height="5" fill="#c0c0c0"/><rect x="1107" y="607" width="1" height="5" fill="#c0c0c0"/><rect x="1111" y="604" width="1" height="8" fill="#c0c0c0"/><rect x="1115" y="604" width="1" height="8" fill="#c0c0c0"/><rect x="1119" y="609" width="1" height="3" fill="#c0c0c0"/><rect x="1123" y="611" width="1" height="1" fill="#c0c0c0"/><rect x="1127" y="611" width="1" height="5" fill="#c0c0c0"/></g>
<path d="M804 573.5h3M186 574.5h3M192 574.5h3M198 574.5h3M204 574.5h3M798 574.5h3M810 574.5h3M126 575.5h3M132 575.5h3M138 575.5h3M162 575.5h3M168 575.5h3M174 575.5h3M180 575.5h3M210 575.5h3M816 575.5h2M120 576.5h2M144 576.5h3M150 576.5h3M156 576.5h3M216 576.5h2M822 577.5h3M115 578.5h2M222 578.5h3M228 578.5h2M234 580.5h3M787 580.5h2M834 583.5h2M781 585.5h2M558 586.5h3M564 586.5h3M552 587.5h2M570 587.5h3M546 588.5h3M841 589.5h2M540 590.5h2M534 592.5h3M582 593.5h3M528 595.5h2M522 596.5h3M769 596.5h2M648 597.5h2M498 598.5h3M516 598.5h2M642 598.5h3M486 599.5h3M492 599.5h2M504 599.5h3M510 599.5h3M594 599.5h3M636 599.5h2M654 599.5h3M853 599.5h2M630 601.5h3M661 603.5h2M606 604.5h3M618 604.5h3M475 605.5h2M612 605.5h3M750 608.5h3M1126 608.5h2M1120 609.5h2M276 611.5h2M744 611.5h2M870 611.5h3M1114 611.5h3M673 613.5h2M738 613.5h3M282 614.5h3M288 614.5h2M294 615.5h3M300 615.5h3M306 616.5h3M732 616.5h2M312 617.5h2M882 617.5h3M1066 617.5h3M1102 617.5h3M726 618.5h3M1060 618.5h2M1072 618.5h3M318 619.5h3M888 619.5h2M1078 619.5h3M1096 619.5h2M324 620.5h2M360 620.5h3M1054 620.5h3M1084 620.5h3M1090 620.5h3M354 621.5h3M366 621.5h3M720 621.5h2M330 622.5h3M336 622.5h2M342 622.5h3M348 622.5h3M372 622.5h3M894 622.5h3M378 623.5h3M714 623.5h3M900 623.5h2M1049 623.5h2M690 624.5h3M708 625.5h2M696 626.5h3M702 626.5h3M906 626.5h3M390 627.5h3M396 628.5h2M450 628.5h2M402 630.5h3M408 630.5h2M918 631.5h3M414 632.5h3M420 633.5h3M426 633.5h3M432 633.5h3M438 633.5h3M972 638.5h3M978 638.5h3M967 640.5h2M937 643.5h2M942 646.5h3M954 646.5h3M948 647.5h3M63 648.5h2M34 649.5h2M39 649.5h3M45 650.5h3M58 650.5h2M22 651.5h2M27 651.5h3M51 651.5h3M15 653.5h3M10 654.5h2M1003 656.5h2M3 657.5h3M1008 657.5h2M1014 657.5h3M9.5 655v1M21.5 652v1M33.5 650v1M57.5 651v1M65.5 647v1M69.5 644v1M70.5 643v1M71.5 642v1M75.5 638v1M76.5 636v2M79.5 632v1M80.5 630v2M82.5 626v1M83.5 625v1M84.5 624v1M86.5 619v2M87.5 618v1M89.5 614v1M90.5 612v2M93.5 606v3M96.5 601v2M97.5 600v1M99.5 596v1M100.5 594v2M103.5 590v1M104.5 589v1M105.5 588v1M108.5 584v1M109.5 583v1M110.5 582v1M114.5 579v1M122.5 575v1M218.5 577v1M230.5 579v1M240.5 582v1M241.5 583v1M242.5 584v1M246.5 586v1M247.5 587v1M248.5 588v1M252.5 591v1M253.5 592v1M254.5 593v1M258.5 597v1M259.5 598v1M260.5 599v1M264.5 602v1M265.5 603v1M266.5 604v1M270.5 607v1M271.5 608v1M272.5 609v1M278.5 612v1M290.5 615v1M314.5 618v1M326.5 621v1M338.5 623v1M384.5 624v1M385.5 625v1M386.5 626v1M398.5 629v1M410.5 631v1M444.5 632v1M445.5 631v1M446.5 630v1M452.5 627v1M456.5 623v1M457.5 622v1M458.5 621v1M462.5 617v1M463.5 616v1M464.5 615v1M468.5 612v1M469.5 611v1M470.5 610v1M474.5 606v1M480.5 603v1M481.5 602v1M482.5 601v1M494.5 598v1M518.5 597v1M530.5 594v1M542.5 589v1M554.5 586v1M576.5 589v1M577.5 590v1M578.5 591v1M588.5 595v1M589.5 596v1M590.5 597v1M600.5 601v1M601.5 602v1M602.5 603v1M624.5 604v1M625.5 603v1M626.5 602v1M638.5 598v1M650.5 598v1M660.5 602v1M666.5 607v1M667.5 608v1M668.5 609v1M672.5 612v1M678.5 616v1M679.5 617v1M680.5 618v1M684.5 620v1M685.5 621v1M686.5 622v1M710.5 624v1M722.5 620v1M734.5 615v1M746.5 610v1M756.5 606v1M757.5 605v1M758.5 604v1M762.5 602v1M763.5 601v1M764.5 600v1M768.5 597v1M774.5 592v1M775.5 591v1M776.5 590v1M780.5 586v1M786.5 581v1M792.5 578v1M793.5 577v1M794.5 576v1M818.5 576v1M828.5 579v1M829.5 580v1M830.5 581v1M836.5 584v1M840.5 588v1M846.5 592v1M847.5 593v1M848.5 594v1M852.5 598v1M858.5 602v1M859.5 603v1M860.5 604v1M864.5 607v1M865.5 608v1M866.5 609v1M876.5 613v1M877.5 614v1M878.5 615v1M890.5 620v1M902.5 624v1M912.5 627v1M913.5 628v1M914.5 629v1M924.5 633v1M925.5 634v1M926.5 635v1M930.5 637v1M931.5 638v1M932.5 639v1M936.5 642v1M960.5 645v1M961.5 644v1M962.5 643v1M966.5 641v1M984.5 640v1M985.5 641v1M986.5 642v1M990.5 644v1M991.5 645v1M992.5 646v1M996.5 649v1M997.5 650v1M998.5 651v1M1002.5 655v1M1010.5 658v1M1020.5 654v1M1021.5 653v1M1022.5 652v1M1026.5 648v1M1027.5 647v1M1028.5 646v1M1032.5 642v1M1033.5 640v2M1037.5 635v2M1038.5 634v1M1042.5 630v1M1043.5 629v1M1044.5 628v1M1048.5 624v1M1062.5 617v1M1098.5 618v1M1108.5 615v1M1109.5 614v1M1110.5 613v1M1122.5 608v1" stroke="#ff0000" stroke-width="1" fill="none" shape-rendering="crispEdges"/>
<g fill="#c0c0c0"><rect x="4" y="709" width="3" height="1"/><rect x="10" y="709" width="3" height="1"/><rect x="16" y="709" width="3" height="1"/><rect x="22" y="709" width="3" height="1"/><rect x="28" y="709" width="3" height="1"/><rect x="34" y="709" width="3" height="1"/><rect x="40" y="709" width="3" height="1"/><rect x="46" y="709" width="3" height="1"/><rect x="52" y="709" width="3" height="1"/><rect x="58" y="709" width="3" height="1"/><rect x="64" y="709" width="3" height="1"/><rect x="70" y="709" width="3" height="1"/><rect x="76" y="709" width="3" height="1"/><rect x="82" y="709" width="3" height="1"/><rect x="88" y="709" width="3" height="1"/><rect x="94" y="709" width="3" height="1"/><rect x="100" y="709" width="3" height="1"/><rect x="106" y="709" width="3" height="1"/><rect x="112" y="709" width="3" height="1"/><rect x="118" y="709" width="3" height="1"/><rect x="124" y="709" width="3" height="1"/><rect x="130" y="709" width="3" height="1"/><rect x="136" y="709" width="3" height="1"/><rect x="142" y="709" width="3" height="1"/><rect x="148" y="709" width="3" height="1"/><rect x="154" y="709" width="3" height="1"/><rect x="160" y="709" width="3" height="1"/><rect x="166" y="709" width="3" height="1"/><rect x="172" y="709" width="3" height="1"/><rect x="178" y="709" width="3" height="1"/><rect x="184" y="709" width="3" height="1"/><rect x="190" y="709" width="3" height="1"/><rect x="196" y="709" width="3" height="1"/><rect x="202" y="709" width="3" height="1"/><rect x="208" y="709" width="3" height="1"/><rect x="214" y="709" width="3" height="1"/><rect x="220" y="709" width="3" height="1"/><rect x="226" y="709" width="3" height="1"/><rect x="232" y="709" width="3" height="1"/><rect x="238" y="709" width="3" height="1"/><rect x="244" y="709" width="3" height="1"/><rect x="250" y="709" width="3" height="1"/><rect x="256" y="709" width="3" height="1"/><rect x="262" y="709" width="3" height="1"/><rect x="268" y="709" width="3" height="1"/><rect x="274" y="709" width="3" height="1"/><rect x="280" y="709" width="3" height="1"/><rect x="286" y="709" width="3" height="1"/><rect x="292" y="709" width="3" height="1"/><rect x="298" y="709" width="3" height="1"/><rect x="304" y="709" width="3" height="1"/><rect x="310" y="709" width="3" height="1"/><rect x="316" y="709" width="3" height="1"/><rect x="322" y="709" width="3" height="1"/><rect x="328" y="709" width="3" height="1"/><rect x="334" y="709" width="3" height="1"/><rect x="340" y="709" width="3" height="1"/><rect x="346" y="709" width="3" height="1"/><rect x="352" y="709" width="3" height="1"/><rect x="358" y="709" width="3" height="1"/><rect x="364" y="709" width="3" height="1"/><rect x="370" y="709" width="3" height="1"/><rect x="376" y="709" width="3" height="1"/><rect x="382" y="709" width="3" height="1"/><rect x="388" y="709" width="3" height="1"/><rect x="394" y="709" width="3" height="1"/><rect x="400" y="709" width="3" height="1"/><rect x="406" y="709" width="3" height="1"/><rect x="412" y="709" width="3" height="1"/><rect x="418" y="709" width="3" height="1"/><rect x="424" y="709" width="3" height="1"/><rect x="430" y="709" width="3" height="1"/><rect x="436" y="709" width="3" height="1"/><rect x="442" y="709" width="3" height="1"/><rect x="448" y="709" width="3" height="1"/><rect x="454" y="709" width="3" height="1"/><rect x="460" y="709" width="3" height="1"/><rect x="466" y="709" width="3" height="1"/><rect x="472" y="709" width="3" height="1"/><rect x="478" y="709" width="3" height="1"/><rect x="484" y="709" width="3" height="1"/><rect x="490" y="709" width="3" height="1"/><rect x="496" y="709" width="3" height="1"/><rect x="502" y="709" width="3" height="1"/><rect x="508" y="709" width="3" height="1"/><rect x="514" y="709" width="3" height="1"/><rect x="520" y="709" width="3" height="1"/><rect x="526" y="709" width="3" height="1"/><rect x="532" y="709" width="3" height="1"/><rect x="538" y="709" width="3" height="1"/><rect x="544" y="709" width="3" height="1"/><rect x="550" y="709" width="3" height="1"/><rect x="556" y="709" width="3" height="1"/><rect x="562" y="709" width="3" height="1"/><rect x="568" y="709" width="3" height="1"/><rect x="574" y="709" width="3" height="1"/><rect x="580" y="709" width="3" height="1"/><rect x="586" y="709" width="3" height="1"/><rect x="592" y="709" width="3" height="1"/><rect x="598" y="709" width="3" height="1"/><rect x="604" y="709" width="3" height="1"/><rect x="610" y="709" width="3" height="1"/><rect x="616" y="709" width="3" height="1"/><rect x="622" y="709" width="3" height="1"/><rect x="628" y="709" width="3" height="1"/><rect x="634" y="709" width="3" height="1"/><rect x="640" y="709" width="3" height="1"/><rect x="646" y="709" width="3" height="1"/><rect x="652" y="709" width="3" height="1"/><rect x="658" y="709" width="3" height="1"/><rect x="664" y="709" width="3" height="1"/><rect x="670" y="709" width="3" height="1"/><rect x="676" y="709" width="3" height="1"/><rect x="682" y="709" width="3" height="1"/><rect x="688" y="709" width="3" height="1"/><rect x="694" y="709" width="3" height="1"/><rect x="700" y="709" width="3" height="1"/><rect x="706" y="709" width="3" height="1"/><rect x="712" y="709" width="3" height="1"/><rect x="718" y="709" width="3" height="1"/><rect x="724" y="709" width="3" height="1"/><rect x="730" y="709" width="3" height="1"/><rect x="736" y="709" width="3" height="1"/><rect x="742" y="709" width="3" height="1"/><rect x="748" y="709" width="3" height="1"/><rect x="754" y="709" width="3" height="1"/><rect x="760" y="709" width="3" height="1"/><rect x="766" y="709" width="3" height="1"/><rect x="772" y="709" width="3" height="1"/><rect x="778" y="709" width="3" height="1"/><rect x="784" y="709" width="3" height="1"/><rect x="790" y="709" width="3" height="1"/><rect x="796" y="709" width="3" height="1"/><rect x="802" y="709" width="3" height="1"/><rect x="808" y="709" width="3" height="1"/><rect x="814" y="709" width="3" height="1"/><rect x="820" y="709" width="3" height="1"/><rect x="826" y="709" width="3" height="1"/><rect x="832" y="709" width="3" height="1"/><rect x="838" y="709" width="3" height="1"/><rect x="844" y="709" width="3" height="1"/><rect x="850" y="709" width="3" height="1"/><rect x="856" y="709" width="3" height="1"/><rect x="862" y="709" width="3" height="1"/><rect x="868" y="709" width="3" height="1"/><rect x="874" y="709" width="3" height="1"/><rect x="880" y="709" width="3" height="1"/><rect x="886" y="709" width="3" height="1"/><rect x="892" y="709" width="3" height="1"/><rect x="898" y="709" width="3" height="1"/><rect x="904" y="709" width="3" height="1"/><rect x="910" y="709" width="3" height="1"/><rect x="916" y="709" width="3" height="1"/><rect x="922" y="709" width="3" height="1"/><rect x="928" y="709" width="3" height="1"/><rect x="934" y="709" width="3" height="1"/><rect x="940" y="709" width="3" height="1"/><rect x="946" y="709" width="3" height="1"/><rect x="952" y="709" width="3" height="1"/><rect x="958" y="709" width="3" height="1"/><rect x="964" y="709" width="3" height="1"/><rect x="970" y="709" width="3" height="1"/><rect x="976" y="709" width="3" height="1"/><rect x="982" y="709" width="3" height="1"/><rect x="988" y="709" width="3" height="1"/><rect x="994" y="709" width="3" height="1"/><rect x="1000" y="709" width="3" height="1"/><rect x="1006" y="709" width="3" height="1"/><rect x="1012" y="709" width="3" height="1"/><rect x="1018" y="709" width="3" height="1"/><rect x="1024" y="709" width="3" height="1"/><rect x="1030" y="709" width="3" height="1"/><rect x="1036" y="709" width="3" height="1"/><rect x="1042" y="709" width="3" height="1"/><rect x="1048" y="709" width="3" height="1"/><rect x="1054" y="709" width="3" height="1"/><rect x="1060" y="709" width="3" height="1"/><rect x="1066" y="709" width="3" height="1"/><rect x="1072" y="709" width="3" height="1"/><rect x="1078" y="709" width="3" height="1"/><rect x="1084" y="709" width="3" height="1"/><rect x="1090" y="709" width="3" height="1"/><rect x="1096" y="709" width="3" height="1"/><rect x="1102" y="709" width="3" height="1"/><rect x="1108" y="709" width="3" height="1"/><rect x="1114" y="709" width="3" height="1"/><rect x="1120" y="709" width="3" height="1"/><rect x="1126" y="709" width="3" height="1"/><rect x="1132" y="709" width="3" height="1"/><rect x="1138" y="709" width="3" height="1"/><rect x="1144" y="709" width="3" height="1"/><rect x="1150" y="709" width="3" height="1"/><rect x="1156" y="709" width="3" height="1"/><rect x="1162" y="709" width="3" height="1"/><rect x="1168" y="709" width="3" height="1"/><rect x="1174" y="709" width="3" height="1"/><rect x="1180" y="709" width="3" height="1"/><rect x="1186" y="709" width="3" height="1"/><rect x="1192" y="709" width="3" height="1"/><rect x="1198" y="709" width="3" height="1"/><rect x="1204" y="709" width="3" height="1"/><rect x="1210" y="709" width="3" height="1"/><rect x="1216" y="709" width="3" height="1"/><rect x="1222" y="709" width="3" height="1"/><rect x="1228" y="709" width="3" height="1"/><rect x="1234" y="709" width="3" height="1"/><rect x="1240" y="709" width="3" height="1"/><rect x="1246" y="709" width="3" height="1"/><rect x="1252" y="709" width="3" height="1"/><rect x="1258" y="709" width="3" height="1"/><rect x="1264" y="709" width="3" height="1"/><rect x="1270" y="709" width="3" height="1"/><rect x="1276" y="709" width="3" height="1"/><rect x="1282" y="709" width="3" height="1"/><rect x="1288" y="709" width="3" height="1"/><rect x="1294" y="709" width="3" height="1"/><rect x="1300" y="709" width="3" height="1"/><rect x="1306" y="709" width="3" height="1"/><rect x="1312" y="709" width="3" height="1"/><rect x="1318" y="709" width="3" height="1"/><rect x="1324" y="709" width="3" height="1"/><rect x="1330" y="709" width="3" height="1"/><rect x="1336" y="709" width="3" height="1"/><rect x="1342" y="709" width="3" height="1"/><rect x="1348" y="709" width="3" height="1"/><rect x="1354" y="709" width="3" height="1"/><rect x="1360" y="709" width="3" height="1"/><rect x="1366" y="709" width="3" height="1"/><rect x="1372" y="709" width="3" height="1"/><rect x="1378" y="709" width="3" height="1"/><rect x="1384" y="709" width="3" height="1"/><rect x="1390" y="709" width="3" height="1"/><rect x="1396" y="709" width="3" height="1"/><rect x="1402" y="709" width="3" height="1"/><rect x="1408" y="709" width="3" height="1"/><rect x="1414" y="709" width="3" height="1"/><rect x="4" y="760" width="3" height="1"/><rect x="10" y="760" width="3" height="1"/><rect x="16" y="760" width="3" height="1"/><rect x="22" y="760" width="3" height="1"/><rect x="28" y="760" width="3" height="1"/><rect x="34" y="760" width="3" height="1"/><rect x="40" y="760" width="3" height="1"/><rect x="46" y="760" width="3" height="1"/><rect x="52" y="760" width="3" height="1"/><rect x="58" y="760" width="3" height="1"/><rect x="64" y="760" width="3" height="1"/><rect x="70" y="760" width="3" height="1"/><rect x="76" y="760" width="3" height="1"/><rect x="82" y="760" width="3" height="1"/><rect x="88" y="760" width="3" height="1"/><rect x="94" y="760" width="3" height="1"/><rect x="100" y="760" width="3" height="1"/><rect x="106" y="760" width="3" height="1"/><rect x="112" y="760" width="3" height="1"/><rect x="118" y="760" width="3" height="1"/><rect x="124" y="760" width="3" height="1"/><rect x="130" y="760" width="3" height="1"/><rect x="136" y="760" width="3" height="1"/><rect x="142" y="760" width="3" height="1"/><rect x="148" y="760" width="3" height="1"/><rect x="154" y="760" width="3" height="1"/><rect x="160" y="760" width="3" height="1"/><rect x="166" y="760" width="3" height="1"/><rect x="172" y="760" width="3" height="1"/><rect x="178" y="760" width="3" height="1"/><rect x="184" y="760" width="3" height="1"/><rect x="190" y="760" width="3" height="1"/><rect x="196" y="760" width="3" height="1"/><rect x="202" y="760" width="3" height="1"/><rect x="208" y="760" width="3" height="1"/><rect x="214" y="760" width="3" height="1"/><rect x="220" y="760" width="3" height="1"/><rect x="226" y="760" width="3" height="1"/><rect x="232" y="760" width="3" height="1"/><rect x="238" y="760" width="3" height="1"/><rect x="244" y="760" width="3" height="1"/><rect x="250" y="760" width="3" height="1"/><rect x="256" y="760" width="3" height="1"/><rect x="262" y="760" width="3" height="1"/><rect x="268" y="760" width="3" height="1"/><rect x="274" y="760" width="3" height="1"/><rect x="280" y="760" width="3" height="1"/><rect x="286" y="760" width="3" height="1"/><rect x="292" y="760" width="3" height="1"/><rect x="298" y="760" width="3" height="1"/><rect x="304" y="760" width="3" height="1"/><rect x="310" y="760" width="3" height="1"/><rect x="316" y="760" width="3" height="1"/><rect x="322" y="760" width="3" height="1"/><rect x="328" y="760" width="3" height="1"/><rect x="334" y="760" width="3" height="1"/><rect x="340" y="760" width="3" height="1"/><rect x="346" y="760" width="3" height="1"/><rect x="352" y="760" width="3" height="1"/><rect x="358" y="760" width="3" height="1"/><rect x="364" y="760" width="3" height="1"/><rect x="370" y="760" width="3" height="1"/><rect x="376" y="760" width="3" height="1"/><rect x="382" y="760" width="3" height="1"/><rect x="388" y="760" width="3" height="1"/><rect x="394" y="760" width="3" height="1"/><rect x="400" y="760" width="3" height="1"/><rect x="406" y="760" width="3" height="1"/><rect x="412" y="760" width="3" height="1"/><rect x="418" y="760" width="3" height="1"/><rect x="424" y="760" width="3" height="1"/><rect x="430" y="760" width="3" height="1"/><rect x="436" y="760" width="3" height="1"/><rect x="442" y="760" width="3" height="1"/><rect x="448" y="760" width="3" height="1"/><rect x="454" y="760" width="3" height="1"/><rect x="460" y="760" width="3" height="1"/><rect x="466" y="760" width="3" height="1"/><rect x="472" y="760" width="3" height="1"/><rect x="478" y="760" width="3" height="1"/><rect x="484" y="760" width="3" height="1"/><rect x="490" y="760" width="3" height="1"/><rect x="496" y="760" width="3" height="1"/><rect x="502" y="760" width="3" height="1"/><rect x="508" y="760" width="3" height="1"/><rect x="514" y="760" width="3" height="1"/><rect x="520" y="760" width="3" height="1"/><rect x="526" y="760" width="3" height="1"/><rect x="532" y="760" width="3" height="1"/><rect x="538" y="760" width="3" height="1"/><rect x="544" y="760" width="3" height="1"/><rect x="550" y="760" width="3" height="1"/><rect x="556" y="760" width="3" height="1"/><rect x="562" y="760" width="3" height="1"/><rect x="568" y="760" width="3" height="1"/><rect x="574" y="760" width="3" height="1"/><rect x="580" y="760" width="3" height="1"/><rect x="586" y="760" width="3" height="1"/><rect x="592" y="760" width="3" height="1"/><rect x="598" y="760" width="3" height="1"/><rect x="604" y="760" width="3" height="1"/><rect x="610" y="760" width="3" height="1"/><rect x="616" y="760" width="3" height="1"/><rect x="622" y="760" width="3" height="1"/><rect x="628" y="760" width="3" height="1"/><rect x="634" y="760" width="3" height="1"/><rect x="640" y="760" width="3" height="1"/><rect x="646" y="760" width="3" height="1"/><rect x="652" y="760" width="3" height="1"/><rect x="658" y="760" width="3" height="1"/><rect x="664" y="760" width="3" height="1"/><rect x="670" y="760" width="3" height="1"/><rect x="676" y="760" width="3" height="1"/><rect x="682" y="760" width="3" height="1"/><rect x="688" y="760" width="3" height="1"/><rect x="694" y="760" width="3" height="1"/><rect x="700" y="760" width="3" height="1"/><rect x="706" y="760" width="3" height="1"/><rect x="712" y="760" width="3" height="1"/><rect x="718" y="760" width="3" height="1"/><rect x="724" y="760" width="3" height="1"/><rect x="730" y="760" width="3" height="1"/><rect x="736" y="760" width="3" height="1"/><rect x="742" y="760" width="3" height="1"/><rect x="748" y="760" width="3" height="1"/><rect x="754" y="760" width="3" height="1"/><rect x="760" y="760" width="3" height="1"/><rect x="766" y="760" width="3" height="1"/><rect x="772" y="760" width="3" height="1"/><rect x="778" y="760" width="3" height="1"/><rect x="784" y="760" width="3" height="1"/><rect x="790" y="760" width="3" height="1"/><rect x="796" y="760" width="3" height="1"/><rect x="802" y="760" width="3" height="1"/><rect x="808" y="760" width="3" height="1"/><rect x="814" y="760" width="3" height="1"/><rect x="820" y="760" width="3" height="1"/><rect x="826" y="760" width="3" height="1"/><rect x="832" y="760" width="3" height="1"/><rect x="838" y="760" width="3" height="1"/><rect x="844" y="760" width="3" height="1"/><rect x="850" y="760" width="3" height="1"/><rect x="856" y="760" width="3" height="1"/><rect x="862" y="760" width="3" height="1"/><rect x="868" y="760" width="3" height="1"/><rect x="874" y="760" width="3" height="1"/><rect x="880" y="760" width="3" height="1"/><rect x="886" y="760" width="3" height="1"/><rect x="892" y="760" width="3" height="1"/><rect x="898" y="760" width="3" height="1"/><rect x="904" y="760" width="3" height="1"/><rect x="910" y="760" width="3" height="1"/><rect x="916" y="760" width="3" height="1"/><rect x="922" y="760" width="3" height="1"/><rect x="928" y="760" width="3" height="1"/><rect x="934" y="760" width="3" height="1"/><rect x="940" y="760" width="3" height="1"/><rect x="946" y="760" width="3" height="1"/><rect x="952" y="760" width="3" height="1"/><rect x="958" y="760" width="3" height="1"/><rect x="964" y="760" width="3" height="1"/><rect x="970" y="760" width="3" height="1"/><rect x="976" y="760" width="3" height="1"/><rect x="982" y="760" width="3" height="1"/><rect x="988" y="760" width="3" height="1"/><rect x="994" y="760" width="3" height="1"/><rect x="1000" y="760" width="3" height="1"/><rect x="1006" y="760" width="3" height="1"/><rect x="1012" y="760" width="3" height="1"/><rect x="1018" y="760" width="3" height="1"/><rect x="1024" y="760" width="3" height="1"/><rect x="1030" y="760" width="3" height="1"/><rect x="1036" y="760" width="3" height="1"/><rect x="1042" y="760" width="3" height="1"/><rect x="1048" y="760" width="3" height="1"/><rect x="1054" y="760" width="3" height="1"/><rect x="1060" y="760" width="3" height="1"/><rect x="1066" y="760" width="3" height="1"/><rect x="1072" y="760" width="3" height="1"/><rect x="1078" y="760" width="3" height="1"/><rect x="1084" y="760" width="3" height="1"/><rect x="1090" y="760" width="3" height="1"/><rect x="1096" y="760" width="3" height="1"/><rect x="1102" y="760" width="3" height="1"/><rect x="1108" y="760" width="3" height="1"/><rect x="1114" y="760" width="3" height="1"/><rect x="1120" y="760" width="3" height="1"/><rect x="1126" y="760" width="3" height="1"/><rect x="1132" y="760" width="3" height="1"/><rect x="1138" y="760" width="3" height="1"/><rect x="1144" y="760" width="3" height="1"/><rect x="1150" y="760" width="3" height="1"/><rect x="1156" y="760" width="3" height="1"/><rect x="1162" y="760" width="3" height="1"/><rect x="1168" y="760" width="3" height="1"/><rect x="1174" y="760" width="3" height="1"/><rect x="1180" y="760" width="3" height="1"/><rect x="1186" y="760" width="3" height="1"/><rect x="1192" y="760" width="3" height="1"/><rect x="1198" y="760" width="3" height="1"/><rect x="1204" y="760" width="3" height="1"/><rect x="1210" y="760" width="3" height="1"/><rect x="1216" y="760" width="3" height="1"/><rect x="1222" y="760" width="3" height="1"/><rect x="1228" y="760" width="3" height="1"/><rect x="1234" y="760" width="3" height="1"/><rect x="1240" y="760" width="3" height="1"/><rect x="1246" y="760" width="3" height="1"/><rect x="1252" y="760" width="3" height="1"/><rect x="1258" y="760" width="3" height="1"/><rect x="1264" y="760" width="3" height="1"/><rect x="1270" y="760" width="3" height="1"/><rect x="1276" y="760" width="3" height="1"/><rect x="1282" y="760" width="3" height="1"/><rect x="1288" y="760" width="3" height="1"/><rect x="1294" y="760" width="3" height="1"/><rect x="1300" y="760" width="3" height="1"/><rect x="1306" y="760" width="3" height="1"/><rect x="1312" y="760" width="3" height="1"/><rect x="1318" y="760" width="3" height="1"/><rect x="1324" y="760" width="3" height="1"/><rect x="1330" y="760" width="3" height="1"/><rect x="1336" y="760" width="3" height="1"/><rect x="1342" y="760" width="3" height="1"/><rect x="1348" y="760" width="3" height="1"/><rect x="1354" y="760" width="3" height="1"/><rect x="1360" y="760" width="3" height="1"/><rect x="1366" y="760" width="3" height="1"/><rect x="1372" y="760" width="3" height="1"/><rect x="1378" y="760" width="3" height="1"/><rect x="1384" y="760" width="3" height="1"/><rect x="1390" y="760" width="3" height="1"/><rect x="1396" y="760" width="3" height="1"/><rect x="1402" y="760" width="3" height="1"/><rect x="1408" y="760" width="3" height="1"/><rect x="1414" y="760" width="3" height="1"/></g>
<path d="M774 695.5h3M771 696.5h3M778 697.5h2M790 700.5h2M761 701.5h2M766 701.5h2M783 701.5h7M763 702.5h3M793 702.5h2M178 703.5h2M83 707.5h2M98 707.5h3M94 708.5h4M537 708.5h3M86 709.5h8M102 709.5h2M138 710.5h3M158 710.5h2M799 710.5h2M822 711.5h2M134 712.5h3M142 712.5h4M518 712.5h2M819 712.5h3M131 713.5h3M146 713.5h2M218 713.5h2M515 713.5h3M78 715.5h2M114 715.5h6M74 716.5h4M110 716.5h4M166 716.5h2M163 717.5h3M626 717.5h2M71 718.5h2M107 718.5h2M183 718.5h2M207 718.5h3M214 718.5h2M509 718.5h2M543 718.5h3M814 718.5h2M69 719.5h2M193 719.5h2M210 719.5h4M546 719.5h10M458 720.5h4M523 720.5h2M622 720.5h2M811 720.5h2M230 721.5h2M462 721.5h2M607 721.5h3M619 721.5h3M1095 721.5h2M65 722.5h2M454 722.5h3M526 722.5h2M610 722.5h2M734 722.5h7M223 723.5h6M450 723.5h4M1098 723.5h2M123 724.5h2M202 724.5h2M447 724.5h3M470 724.5h2M731 724.5h2M742 724.5h2M199 725.5h3M467 725.5h3M502 725.5h2M1031 725.5h3M498 726.5h4M1034 726.5h2M487 727.5h2M494 728.5h3M1023 728.5h3M331 729.5h3M490 729.5h4M718 729.5h2M1026 729.5h2M334 730.5h2M475 730.5h6M559 730.5h2M566 730.5h2M711 730.5h7M1106 730.5h2M721 731.5h2M726 731.5h2M283 732.5h2M482 732.5h2M562 732.5h3M569 732.5h2M585 732.5h3M699 732.5h2M723 732.5h3M285 733.5h2M571 733.5h3M578 733.5h4M635 733.5h5M701 733.5h2M962 733.5h2M1042 733.5h2M287 734.5h3M355 734.5h2M574 734.5h4M582 734.5h2M1059 734.5h2M270 735.5h2M290 735.5h3M595 735.5h2M602 735.5h2M641 735.5h2M951 735.5h7M1039 735.5h2M235 736.5h3M266 736.5h4M358 736.5h2M597 736.5h2M643 736.5h5M705 736.5h2M958 736.5h2M1007 736.5h2M1062 736.5h2M238 737.5h2M294 737.5h6M395 737.5h2M599 737.5h2M854 737.5h6M893 737.5h2M1083 737.5h2M259 738.5h6M346 738.5h2M397 738.5h2M423 738.5h10M649 738.5h2M897 738.5h2M1010 738.5h8M399 739.5h3M851 739.5h2M1018 739.5h2M1086 739.5h2M325 740.5h2M402 740.5h4M434 740.5h2M319 741.5h3M339 741.5h3M406 741.5h2M691 741.5h2M1047 741.5h9M322 742.5h2M342 742.5h2M689 742.5h2M1074 742.5h4M54 743.5h6M375 743.5h2M694 743.5h2M843 743.5h2M1067 743.5h7M1078 743.5h2M5 744.5h2M51 744.5h3M247 744.5h3M254 744.5h2M275 744.5h2M686 744.5h2M943 744.5h2M1119 744.5h5M245 745.5h2M250 745.5h4M378 745.5h3M682 745.5h4M846 745.5h2M243 746.5h2M679 746.5h3M946 746.5h2M1125 746.5h2M366 747.5h2M382 747.5h2M363 748.5h3M390 748.5h2M413 748.5h3M667 748.5h5M350 749.5h2M385 749.5h2M411 749.5h2M310 750.5h4M387 750.5h2M673 750.5h2M314 751.5h2M903 751.5h3M18 752.5h6M307 752.5h2M906 752.5h2M418 753.5h2M882 753.5h2M15 754.5h2M877 754.5h2M662 755.5h2M879 755.5h2M991 755.5h3M29 756.5h2M931 756.5h3M994 756.5h4M39 757.5h9M659 757.5h2M934 757.5h2M998 757.5h2M921 759.5h2M911 761.5h5M973 761.5h2M975 762.5h3M978 763.5h2M926 764.5h2M981 765.5h2M3.5 742v1M4.5 743v1M7.5 745v1M8.5 746v1M9.5 747v1M10.5 748v1M11.5 749v1M12.5 750v1M13.5 751v2M14.5 753v1M17.5 753v1M24.5 753v2M25.5 755v1M26.5 756v2M27.5 758v1M28.5 757v1M31.5 754v2M32.5 752v2M33.5 750v2M34.5 748v2M35.5 746v2M36.5 748v3M37.5 751v2M38.5 753v3M39.5 756v1M47.5 756v1M48.5 753v3M49.5 749v4M50.5 746v3M51.5 745v1M59.5 741v2M60.5 736v5M61.5 732v4M62.5 727v5M63.5 724v3M64.5 723v1M67.5 721v1M68.5 720v1M73.5 717v1M79.5 714v1M80.5 713v1M81.5 710v3M82.5 709v1M83.5 708v1M85.5 708v1M101.5 708v1M103.5 710v1M104.5 711v2M105.5 713v2M106.5 715v2M107.5 717v1M109.5 717v1M119.5 716v1M120.5 717v2M121.5 719v3M122.5 722v2M123.5 725v1M124.5 723v1M125.5 722v1M126.5 720v2M127.5 719v1M128.5 717v2M129.5 716v1M130.5 714v2M137.5 711v1M141.5 711v1M148.5 714v1M149.5 715v1M150.5 716v1M151.5 717v1M152.5 716v1M153.5 715v1M154.5 714v1M155.5 713v1M156.5 712v1M157.5 711v1M159.5 709v1M160.5 711v1M161.5 712v3M162.5 715v1M163.5 716v1M168.5 714v2M169.5 713v1M170.5 711v2M171.5 710v1M172.5 709v1M173.5 708v1M174.5 707v1M175.5 706v1M176.5 705v1M177.5 704v1M179.5 702v1M179.5 704v1M180.5 705v4M181.5 709v4M182.5 713v4M183.5 717v1M183.5 719v1M185.5 717v1M186.5 716v1M187.5 715v1M188.5 716v2M189.5 718v1M190.5 719v2M191.5 721v1M192.5 720v1M195.5 718v1M196.5 719v2M197.5 721v2M198.5 723v2M204.5 722v2M205.5 721v1M206.5 719v2M216.5 716v2M217.5 715v1M218.5 714v1M219.5 712v1M220.5 714v3M221.5 717v2M222.5 719v3M223.5 722v1M229.5 722v1M231.5 722v1M232.5 723v4M233.5 727v4M234.5 731v4M235.5 735v1M239.5 738v1M240.5 739v2M241.5 741v3M242.5 744v2M243.5 747v1M256.5 742v2M257.5 741v1M258.5 739v2M265.5 737v1M271.5 736v1M272.5 737v2M273.5 739v3M274.5 742v2M275.5 745v1M276.5 743v1M277.5 742v1M278.5 740v2M279.5 738v2M280.5 737v1M281.5 734v3M282.5 733v1M283.5 731v1M293.5 736v1M299.5 738v1M300.5 739v1M301.5 740v3M302.5 743v1M303.5 744v2M304.5 746v2M305.5 748v2M306.5 750v2M309.5 751v1M315.5 750v1M316.5 748v2M317.5 745v3M318.5 743v2M319.5 742v1M324.5 741v1M327.5 738v2M328.5 736v2M329.5 733v3M330.5 731v2M331.5 730v1M335.5 731v1M336.5 732v3M337.5 735v2M338.5 737v3M339.5 740v1M344.5 741v1M345.5 739v2M347.5 737v1M348.5 739v4M349.5 743v3M350.5 746v3M351.5 750v2M352.5 745v4M353.5 741v4M354.5 737v4M355.5 735v2M357.5 735v1M359.5 737v1M360.5 738v3M361.5 741v3M362.5 744v3M363.5 747v1M367.5 746v1M368.5 742v4M369.5 739v3M370.5 735v4M371.5 733v2M372.5 735v2M373.5 737v3M374.5 740v2M375.5 742v1M377.5 744v1M381.5 746v1M384.5 748v1M389.5 749v1M391.5 747v1M392.5 744v3M393.5 741v3M394.5 738v3M395.5 736v1M407.5 742v1M408.5 743v2M409.5 745v2M410.5 747v2M411.5 750v1M415.5 747v1M416.5 749v1M417.5 750v3M419.5 754v2M420.5 749v4M421.5 745v4M422.5 741v4M423.5 739v2M433.5 739v1M436.5 738v2M437.5 736v2M438.5 734v2M439.5 733v1M440.5 732v1M441.5 731v1M442.5 730v1M443.5 729v1M444.5 728v1M445.5 726v2M446.5 725v1M457.5 721v1M464.5 722v1M465.5 723v1M466.5 724v1M472.5 725v2M473.5 727v1M474.5 728v2M481.5 731v1M484.5 731v1M485.5 729v2M486.5 728v1M489.5 728v1M497.5 727v1M504.5 724v1M505.5 722v2M506.5 721v1M507.5 720v1M508.5 719v1M511.5 717v1M512.5 716v1M513.5 715v1M514.5 714v1M519.5 713v1M520.5 714v1M521.5 715v3M522.5 718v1M523.5 719v1M525.5 721v1M527.5 721v1M528.5 720v1M529.5 717v3M530.5 716v1M531.5 714v2M532.5 713v1M533.5 712v1M534.5 711v1M535.5 710v1M536.5 709v1M539.5 707v1M540.5 709v3M541.5 712v2M542.5 714v3M543.5 717v1M555.5 720v1M556.5 721v3M557.5 724v2M558.5 726v3M559.5 729v1M561.5 731v1M565.5 731v1M568.5 731v1M584.5 733v1M587.5 731v1M588.5 733v3M589.5 736v2M590.5 738v3M591.5 741v2M592.5 740v1M593.5 737v3M594.5 736v1M595.5 734v1M601.5 736v1M603.5 734v1M604.5 730v4M605.5 727v3M606.5 723v4M607.5 722v1M611.5 721v1M612.5 718v3M613.5 715v3M614.5 712v3M615.5 710v2M616.5 712v3M617.5 715v2M618.5 717v3M619.5 720v1M624.5 719v1M625.5 718v1M627.5 716v1M628.5 718v1M629.5 719v3M630.5 722v1M631.5 723v3M632.5 726v2M633.5 728v2M634.5 730v2M635.5 732v1M640.5 734v1M648.5 737v1M651.5 739v1M652.5 740v1M653.5 741v2M654.5 743v1M655.5 744v2M656.5 746v3M657.5 749v4M658.5 753v3M659.5 756v1M661.5 756v1M664.5 753v2M665.5 751v2M666.5 749v2M672.5 749v1M675.5 751v1M676.5 750v1M677.5 748v2M678.5 747v1M688.5 743v1M693.5 742v1M695.5 742v1M696.5 739v3M697.5 736v3M698.5 733v3M699.5 731v1M703.5 734v1M704.5 735v1M707.5 737v1M708.5 735v2M709.5 733v2M710.5 731v2M720.5 730v1M728.5 729v2M729.5 727v2M730.5 725v2M733.5 723v1M741.5 723v1M744.5 723v1M745.5 722v1M746.5 721v1M747.5 719v2M748.5 717v2M749.5 715v2M750.5 713v2M751.5 711v2M752.5 709v2M753.5 708v1M754.5 706v2M755.5 705v1M756.5 703v2M757.5 702v1M758.5 700v2M759.5 699v1M760.5 700v1M768.5 700v1M769.5 698v2M770.5 697v1M777.5 696v1M780.5 698v1M781.5 699v1M782.5 700v1M792.5 701v1M795.5 703v2M796.5 705v1M797.5 706v3M798.5 709v1M799.5 711v1M801.5 709v1M802.5 708v1M803.5 707v1M804.5 708v1M805.5 709v2M806.5 711v1M807.5 712v2M808.5 714v1M809.5 715v3M810.5 718v1M811.5 719v1M813.5 719v1M816.5 716v2M817.5 715v1M818.5 713v2M823.5 712v2M824.5 714v4M825.5 718v5M826.5 723v4M827.5 727v4M828.5 731v2M829.5 733v2M830.5 735v2M831.5 737v2M832.5 739v1M833.5 740v2M834.5 742v1M835.5 743v2M836.5 745v2M837.5 747v3M838.5 750v2M839.5 752v2M840.5 750v2M841.5 747v3M842.5 745v2M843.5 744v1M845.5 744v1M848.5 743v2M849.5 742v1M850.5 740v2M853.5 738v1M860.5 738v1M861.5 739v2M862.5 741v1M863.5 742v1M864.5 740v2M865.5 739v1M866.5 737v2M867.5 736v1M868.5 737v1M869.5 738v2M870.5 740v1M871.5 741v2M872.5 743v3M873.5 746v2M874.5 748v3M875.5 751v2M876.5 753v1M881.5 754v1M884.5 751v2M885.5 750v1M886.5 748v2M887.5 746v2M888.5 745v1M889.5 742v3M890.5 741v1M891.5 739v2M892.5 738v1M895.5 736v1M896.5 737v1M899.5 739v2M900.5 741v3M901.5 744v3M902.5 747v3M903.5 750v1M907.5 753v1M908.5 754v2M909.5 756v2M910.5 758v2M911.5 760v1M916.5 760v1M917.5 759v1M918.5 758v1M919.5 757v1M920.5 758v1M923.5 760v1M924.5 761v1M925.5 762v2M927.5 765v1M928.5 762v2M929.5 760v2M930.5 758v2M931.5 757v1M936.5 755v2M937.5 753v2M938.5 751v2M939.5 750v1M940.5 748v2M941.5 747v1M942.5 745v2M945.5 745v1M947.5 745v1M948.5 742v3M949.5 740v2M950.5 737v3M951.5 736v1M960.5 735v1M961.5 734v1M963.5 732v1M964.5 734v4M965.5 738v3M966.5 741v4M967.5 745v3M968.5 748v3M969.5 751v4M970.5 755v3M971.5 758v2M972.5 760v1M980.5 764v1M983.5 766v1M984.5 764v2M985.5 763v1M986.5 761v2M987.5 760v1M988.5 759v1M989.5 757v2M990.5 756v1M999.5 756v1M1000.5 754v2M1001.5 752v2M1002.5 750v2M1003.5 747v3M1004.5 744v3M1005.5 741v3M1006.5 738v3M1007.5 737v1M1009.5 737v1M1019.5 738v1M1020.5 735v3M1021.5 733v2M1022.5 730v3M1023.5 729v1M1028.5 728v1M1029.5 727v1M1030.5 726v1M1035.5 727v1M1036.5 728v2M1037.5 730v3M1038.5 733v2M1039.5 736v1M1041.5 734v1M1043.5 732v1M1044.5 734v2M1045.5 736v2M1046.5 738v2M1047.5 740v1M1056.5 739v2M1057.5 737v2M1058.5 735v2M1061.5 735v1M1064.5 737v2M1065.5 739v2M1066.5 741v2M1080.5 741v2M1081.5 740v1M1082.5 738v2M1085.5 738v1M1087.5 738v1M1088.5 735v3M1089.5 731v4M1090.5 728v3M1091.5 726v2M1092.5 725v1M1093.5 723v2M1094.5 722v1M1097.5 722v1M1100.5 724v1M1101.5 725v1M1102.5 726v1M1103.5 727v1M1104.5 728v1M1105.5 729v1M1107.5 731v1M1108.5 729v1M1109.5 726v3M1110.5 725v1M1111.5 723v2M1112.5 725v2M1113.5 727v2M1114.5 729v2M1115.5 731v3M1116.5 734v3M1117.5 737v3M1118.5 740v3M1119.5 743v1M1124.5 745v1M1127.5 747v1" stroke="#1e90ff" stroke-width="1" fill="none" shape-rendering="crispEdges"/>
<text x="7.7" y="577" font-size="10.3" fill="#000" stroke="#000" stroke-width="0.16" textLength="150" lengthAdjust="spacingAndGlyphs">MACD(12,26,9) -0.000716 0.000423</text>
<text x="7.7" y="682" font-size="10.3" fill="#000" stroke="#000" stroke-width="0.16" textLength="67.2" lengthAdjust="spacingAndGlyphs">RSI(14) 39.5699</text>
<rect x="3" y="800" width="1" height="3" fill="#000"/>
<text x="2.6" y="812" font-size="10.3" fill="#000" stroke="#000" stroke-width="0.16" textLength="50.8" lengthAdjust="spacingAndGlyphs">10 Sep 2018</text>
<rect x="67" y="800" width="1" height="3" fill="#000"/>
<text x="66.6" y="812" font-size="10.3" fill="#000" stroke="#000" stroke-width="0.16" textLength="51.3" lengthAdjust="spacingAndGlyphs">28 Sep 2018</text>
<rect x="131" y="800" width="1" height="3" fill="#000"/>
<text x="130.6" y="812" font-size="10.3" fill="#000" stroke="#000" stroke-width="0.16" textLength="49.6" lengthAdjust="spacingAndGlyphs">17 Oct 2018</text>
<rect x="195" y="800" width="1" height="3" fill="#000"/>
<text x="194.6" y="812" font-size="10.3" fill="#000" stroke="#000" stroke-width="0.16" textLength="48" lengthAdjust="spacingAndGlyphs">5 Nov 2018</text>
<rect x="259" y="800" width="1" height="3" fill="#000"/>
<text x="258.6" y="812" font-size="10.3" fill="#000" stroke="#000" stroke-width="0.16" textLength="53.6" lengthAdjust="spacingAndGlyphs">23 Nov 2018</text>
<rect x="323" y="800" width="1" height="3" fill="#000"/>
<text x="322.6" y="812" font-size="10.3" fill="#000" stroke="#000" stroke-width="0.16" textLength="51.6" lengthAdjust="spacingAndGlyphs">12 Dec 2018</text>
<rect x="387" y="800" width="1" height="3" fill="#000"/>
<text x="386.6" y="812" font-size="10.3" fill="#000" stroke="#000" stroke-width="0.16" textLength="51.6" lengthAdjust="spacingAndGlyphs">31 Dec 2018</text>
<rect x="451" y="800" width="1" height="3" fill="#000"/>
<text x="450.6" y="812" font-size="10.3" fill="#000" stroke="#000" stroke-width="0.16" textLength="49.4" lengthAdjust="spacingAndGlyphs">18 Jan 2019</text>
<rect x="515" y="800" width="1" height="3" fill="#000"/>
<text x="514.6" y="812" font-size="10.3" fill="#000" stroke="#000" stroke-width="0.16" textLength="47" lengthAdjust="spacingAndGlyphs">6 Feb 2019</text>
<rect x="579" y="800" width="1" height="3" fill="#000"/>
<text x="578.6" y="812" font-size="10.3" fill="#000" stroke="#000" stroke-width="0.16" textLength="51.4" lengthAdjust="spacingAndGlyphs">25 Feb 2019</text>
<rect x="643" y="800" width="1" height="3" fill="#000"/>
<text x="642.6" y="812" font-size="10.3" fill="#000" stroke="#000" stroke-width="0.16" textLength="50.8" lengthAdjust="spacingAndGlyphs">15 Mar 2019</text>
<rect x="707" y="800" width="1" height="3" fill="#000"/>
<text x="706.6" y="812" font-size="10.3" fill="#000" stroke="#000" stroke-width="0.16" textLength="45.4" lengthAdjust="spacingAndGlyphs">3 Apr 2019</text>
<rect x="771" y="800" width="1" height="3" fill="#000"/>
<text x="770.6" y="812" font-size="10.3" fill="#000" stroke="#000" stroke-width="0.16" textLength="50.2" lengthAdjust="spacingAndGlyphs">23 Apr 2019</text>
<rect x="835" y="800" width="1" height="3" fill="#000"/>
<text x="834.6" y="812" font-size="10.3" fill="#000" stroke="#000" stroke-width="0.16" textLength="54" lengthAdjust="spacingAndGlyphs">12 May 2019</text>
<rect x="899" y="800" width="1" height="3" fill="#000"/>
<text x="898.6" y="812" font-size="10.3" fill="#000" stroke="#000" stroke-width="0.16" textLength="54.4" lengthAdjust="spacingAndGlyphs">30 May 2019</text>
<rect x="963" y="800" width="1" height="3" fill="#000"/>
<text x="962.6" y="812" font-size="10.3" fill="#000" stroke="#000" stroke-width="0.16" textLength="49.2" lengthAdjust="spacingAndGlyphs">18 Jun 2019</text>
<rect x="1027" y="800" width="1" height="3" fill="#000"/>
<text x="1026.6" y="812" font-size="10.3" fill="#000" stroke="#000" stroke-width="0.16" textLength="42" lengthAdjust="spacingAndGlyphs">7 Jul 2019</text>
<rect x="1091" y="800" width="1" height="3" fill="#000"/>
<text x="1090.6" y="812" font-size="10.3" fill="#000" stroke="#000" stroke-width="0.16" textLength="47" lengthAdjust="spacingAndGlyphs">25 Jul 2019</text>
<rect x="0" y="820" width="1464" height="1" fill="#e3e3e3"/>
<rect x="0" y="821" width="1464" height="1" fill="#ffffff"/>
<rect x="0" y="823" width="1464" height="21" fill="#f0f0f0"/>
<rect x="0" y="842" width="1464" height="1" fill="#fafafa"/>
<rect x="0" y="822" width="1464" height="1" fill="#000"/>
<rect x="221" y="822" width="106" height="18" fill="#ffffff"/>
<rect x="220" y="822" width="1" height="19" fill="#000"/>
<rect x="327" y="822" width="1" height="19" fill="#000"/>
<rect x="220" y="840" width="108" height="1" fill="#000"/>
<rect x="328" y="824" width="1" height="18" fill="#b0b0b0"/>
<rect x="222" y="841" width="107" height="1" fill="#b0b0b0"/>
<text x="15.3" y="836.7" font-size="11.6" fill="#6d6d6d" stroke="#6d6d6d" stroke-width="0" textLength="84.4" lengthAdjust="spacingAndGlyphs">EURUSD-,Daily</text>
<text x="122" y="836.7" font-size="11.6" fill="#6d6d6d" stroke="#6d6d6d" stroke-width="0" textLength="86.7" lengthAdjust="spacingAndGlyphs">AUDUSD-,Daily</text>
<text x="232.4" y="836.7" font-size="11.6" fill="#000" stroke="#000" stroke-width="0" textLength="83.8" lengthAdjust="spacingAndGlyphs">USDCHF-,Daily</text>
<text x="339.7" y="836.7" font-size="11.6" fill="#6d6d6d" stroke="#6d6d6d" stroke-width="0" textLength="85.0" lengthAdjust="spacingAndGlyphs">USDCAD-,Daily</text>
<text x="448.3" y="836.7" font-size="11.6" fill="#6d6d6d" stroke="#6d6d6d" stroke-width="0" textLength="87.5" lengthAdjust="spacingAndGlyphs">USDCNH-,Daily</text>
<text x="559.7" y="836.7" font-size="11.6" fill="#6d6d6d" stroke="#6d6d6d" stroke-width="0" textLength="96.1" lengthAdjust="spacingAndGlyphs">EURCHF-,Weekly</text>
<text x="680" y="836.7" font-size="11.6" fill="#6d6d6d" stroke="#6d6d6d" stroke-width="0" textLength="100" lengthAdjust="spacingAndGlyphs">XAUUSD-,Weekly</text>
<text x="803.1" y="836.7" font-size="11.6" fill="#6d6d6d" stroke="#6d6d6d" stroke-width="0" textLength="72.7" lengthAdjust="spacingAndGlyphs">GBPUSD-,H1</text>
<text x="899.1" y="836.7" font-size="11.6" fill="#6d6d6d" stroke="#6d6d6d" stroke-width="0" textLength="56.2" lengthAdjust="spacingAndGlyphs">UKOil-,H1</text>
<text x="978.6" y="836.7" font-size="11.6" fill="#6d6d6d" stroke="#6d6d6d" stroke-width="0" textLength="82.6" lengthAdjust="spacingAndGlyphs">USDX-,Weekly</text>
<rect x="112" y="826" width="1" height="13" fill="#8c8c8c"/>
<rect x="436" y="826" width="1" height="13" fill="#8c8c8c"/>
<rect x="548" y="826" width="1" height="13" fill="#8c8c8c"/>
<rect x="668" y="826" width="1" height="13" fill="#8c8c8c"/>
<rect x="792" y="826" width="1" height="13" fill="#8c8c8c"/>
<rect x="888" y="826" width="1" height="13" fill="#8c8c8c"/>
<rect x="968" y="826" width="1" height="13" fill="#8c8c8c"/>
<rect x="1073" y="826" width="1" height="13" fill="#8c8c8c"/>
<polygon points="1434,831 1437,828 1437,834.5" fill="#8c8c8c"/>
<polygon points="1456.5,831 1453,828 1453,834.5" fill="#8c8c8c"/>
</svg>
</body></html>
